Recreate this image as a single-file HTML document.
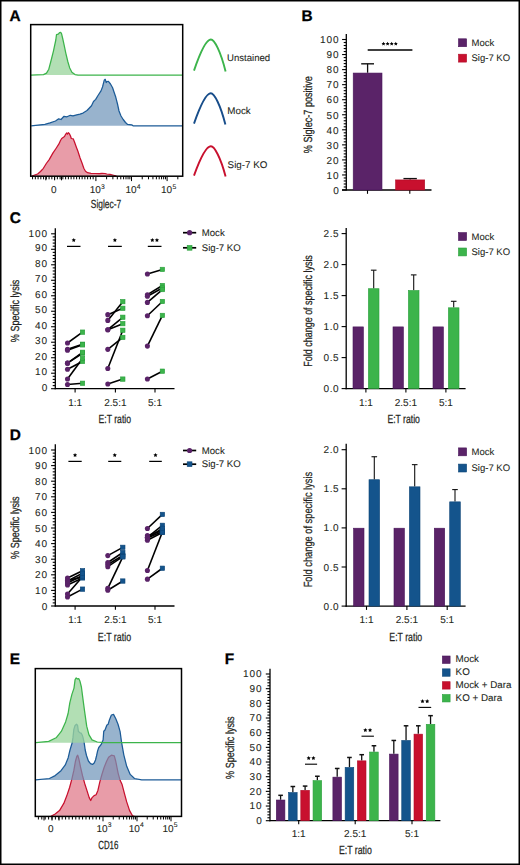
<!DOCTYPE html>
<html><head><meta charset="utf-8"><style>
html,body{margin:0;padding:0;background:#fff;}
svg{display:block;font-family:'Liberation Sans', sans-serif;text-rendering:geometricPrecision;}
</style></head><body>
<svg width="520" height="865" viewBox="0 0 520 865">
<rect x="0" y="0" width="520" height="865" fill="#fff"/>
<text x="9.60" y="21.20" font-size="15.4" font-weight="bold" fill="#000" stroke="#000" stroke-width="0.3">A</text>
<path d="M31.80,176.20 L31.80,176.00 L37.60,174.00 L40.50,171.50 L43.40,168.30 L46.30,163.50 L49.20,159.60 L53.00,152.90 L56.00,148.50 L58.80,144.20 L60.50,140.50 L61.70,138.50 L64.50,136.50 L65.50,134.50 L66.50,133.00 L67.40,134.00 L68.40,132.70 L69.30,133.60 L70.50,136.00 L71.30,138.50 L73.20,138.80 L74.50,142.00 L76.00,146.20 L78.00,151.50 L80.00,157.70 L82.00,163.00 L83.80,168.30 L85.50,171.30 L87.60,172.70 L91.00,173.30 L95.30,173.50 L99.20,173.60 L102.00,173.30 L105.00,173.50 L106.80,174.00 L110.00,174.30 L112.60,175.00 L116.50,176.00 L116.50,176.20 Z" fill="#e89ca8" fill-opacity="1.0" stroke="none"/>
<path d="M31.80,176.00 L37.60,174.00 L40.50,171.50 L43.40,168.30 L46.30,163.50 L49.20,159.60 L53.00,152.90 L56.00,148.50 L58.80,144.20 L60.50,140.50 L61.70,138.50 L64.50,136.50 L65.50,134.50 L66.50,133.00 L67.40,134.00 L68.40,132.70 L69.30,133.60 L70.50,136.00 L71.30,138.50 L73.20,138.80 L74.50,142.00 L76.00,146.20 L78.00,151.50 L80.00,157.70 L82.00,163.00 L83.80,168.30 L85.50,171.30 L87.60,172.70 L91.00,173.30 L95.30,173.50 L99.20,173.60 L102.00,173.30 L105.00,173.50 L106.80,174.00 L110.00,174.30 L112.60,175.00 L116.50,176.00" fill="none" stroke="#c8102e" stroke-width="1.25" stroke-linejoin="round"/>
<path d="M31.20,125.80 L31.20,125.80 L44.90,124.30 L50.00,122.80 L55.50,121.00 L58.70,118.80 L61.00,119.50 L64.00,116.30 L67.00,116.80 L70.30,115.30 L73.00,115.80 L76.70,114.80 L80.00,114.20 L83.00,113.10 L87.00,110.50 L91.50,105.70 L93.50,101.50 L95.70,99.40 L98.00,95.50 L101.00,90.90 L102.50,87.00 L104.20,80.30 L105.20,79.30 L106.20,82.50 L107.00,81.50 L108.40,81.40 L110.50,84.00 L112.60,87.80 L114.00,92.00 L115.80,97.30 L117.50,104.00 L119.00,111.00 L121.00,116.00 L123.20,119.50 L125.50,122.50 L127.40,124.30 L131.70,124.80 L133.00,125.80 L182.50,125.80 L182.50,125.80 Z" fill="#7095ba" fill-opacity="0.72" stroke="none"/>
<path d="M31.20,125.80 L44.90,124.30 L50.00,122.80 L55.50,121.00 L58.70,118.80 L61.00,119.50 L64.00,116.30 L67.00,116.80 L70.30,115.30 L73.00,115.80 L76.70,114.80 L80.00,114.20 L83.00,113.10 L87.00,110.50 L91.50,105.70 L93.50,101.50 L95.70,99.40 L98.00,95.50 L101.00,90.90 L102.50,87.00 L104.20,80.30 L105.20,79.30 L106.20,82.50 L107.00,81.50 L108.40,81.40 L110.50,84.00 L112.60,87.80 L114.00,92.00 L115.80,97.30 L117.50,104.00 L119.00,111.00 L121.00,116.00 L123.20,119.50 L125.50,122.50 L127.40,124.30 L131.70,124.80 L133.00,125.80 L182.50,125.80" fill="none" stroke="#1c5b97" stroke-width="1.25" stroke-linejoin="round"/>
<path d="M31.00,75.10 L31.00,75.10 L43.50,74.60 L46.50,73.10 L48.80,69.20 L51.20,60.00 L53.50,50.80 L55.80,40.00 L56.50,34.60 L58.10,34.20 L58.80,33.50 L59.60,32.60 L60.70,32.30 L61.60,33.80 L62.70,38.50 L64.20,45.40 L65.80,53.10 L67.80,61.50 L69.60,67.70 L71.90,72.30 L75.00,74.60 L78.10,75.10 L182.50,75.10 L182.50,75.10 Z" fill="#9cd69f" fill-opacity="0.78" stroke="none"/>
<path d="M31.00,75.10 L43.50,74.60 L46.50,73.10 L48.80,69.20 L51.20,60.00 L53.50,50.80 L55.80,40.00 L56.50,34.60 L58.10,34.20 L58.80,33.50 L59.60,32.60 L60.70,32.30 L61.60,33.80 L62.70,38.50 L64.20,45.40 L65.80,53.10 L67.80,61.50 L69.60,67.70 L71.90,72.30 L75.00,74.60 L78.10,75.10 L182.50,75.10" fill="none" stroke="#3cb44b" stroke-width="1.25" stroke-linejoin="round"/>
<rect x="30.7" y="24.6" width="152.0" height="151.6" fill="none" stroke="#000" stroke-width="1.5"/>
<line x1="54.60" y1="176.60" x2="54.60" y2="179.30" stroke="#000" stroke-width="1.0"/>
<line x1="51.85" y1="176.60" x2="51.85" y2="179.30" stroke="#000" stroke-width="1.0"/>
<line x1="49.09" y1="176.60" x2="49.09" y2="179.30" stroke="#000" stroke-width="1.0"/>
<line x1="46.34" y1="176.60" x2="46.34" y2="179.30" stroke="#000" stroke-width="1.0"/>
<line x1="43.59" y1="176.60" x2="43.59" y2="179.30" stroke="#000" stroke-width="1.0"/>
<line x1="40.83" y1="176.60" x2="40.83" y2="179.30" stroke="#000" stroke-width="1.0"/>
<line x1="38.08" y1="176.60" x2="38.08" y2="179.30" stroke="#000" stroke-width="1.0"/>
<line x1="35.33" y1="176.60" x2="35.33" y2="179.30" stroke="#000" stroke-width="1.0"/>
<line x1="32.57" y1="176.60" x2="32.57" y2="179.30" stroke="#000" stroke-width="1.0"/>
<line x1="57.35" y1="176.60" x2="57.35" y2="179.30" stroke="#000" stroke-width="1.0"/>
<line x1="60.11" y1="176.60" x2="60.11" y2="179.30" stroke="#000" stroke-width="1.0"/>
<line x1="62.86" y1="176.60" x2="62.86" y2="179.30" stroke="#000" stroke-width="1.0"/>
<line x1="65.61" y1="176.60" x2="65.61" y2="179.30" stroke="#000" stroke-width="1.0"/>
<line x1="68.37" y1="176.60" x2="68.37" y2="179.30" stroke="#000" stroke-width="1.0"/>
<line x1="71.12" y1="176.60" x2="71.12" y2="179.30" stroke="#000" stroke-width="1.0"/>
<line x1="73.87" y1="176.60" x2="73.87" y2="179.30" stroke="#000" stroke-width="1.0"/>
<line x1="76.63" y1="176.60" x2="76.63" y2="179.30" stroke="#000" stroke-width="1.0"/>
<line x1="79.38" y1="176.60" x2="79.38" y2="179.30" stroke="#000" stroke-width="1.0"/>
<line x1="82.13" y1="176.60" x2="82.13" y2="179.30" stroke="#000" stroke-width="1.0"/>
<line x1="84.89" y1="176.60" x2="84.89" y2="179.30" stroke="#000" stroke-width="1.0"/>
<line x1="87.64" y1="176.60" x2="87.64" y2="179.30" stroke="#000" stroke-width="1.0"/>
<line x1="90.39" y1="176.60" x2="90.39" y2="179.30" stroke="#000" stroke-width="1.0"/>
<line x1="93.15" y1="176.60" x2="93.15" y2="179.30" stroke="#000" stroke-width="1.0"/>
<line x1="95.90" y1="176.60" x2="95.90" y2="181.10" stroke="#000" stroke-width="1.0"/>
<line x1="106.62" y1="176.60" x2="106.62" y2="179.30" stroke="#000" stroke-width="1.0"/>
<line x1="112.89" y1="176.60" x2="112.89" y2="179.30" stroke="#000" stroke-width="1.0"/>
<line x1="117.33" y1="176.60" x2="117.33" y2="179.30" stroke="#000" stroke-width="1.0"/>
<line x1="120.78" y1="176.60" x2="120.78" y2="179.30" stroke="#000" stroke-width="1.0"/>
<line x1="123.60" y1="176.60" x2="123.60" y2="179.30" stroke="#000" stroke-width="1.0"/>
<line x1="125.99" y1="176.60" x2="125.99" y2="179.30" stroke="#000" stroke-width="1.0"/>
<line x1="128.05" y1="176.60" x2="128.05" y2="179.30" stroke="#000" stroke-width="1.0"/>
<line x1="129.87" y1="176.60" x2="129.87" y2="179.30" stroke="#000" stroke-width="1.0"/>
<line x1="131.50" y1="176.60" x2="131.50" y2="181.10" stroke="#000" stroke-width="1.0"/>
<line x1="142.22" y1="176.60" x2="142.22" y2="179.30" stroke="#000" stroke-width="1.0"/>
<line x1="148.49" y1="176.60" x2="148.49" y2="179.30" stroke="#000" stroke-width="1.0"/>
<line x1="152.93" y1="176.60" x2="152.93" y2="179.30" stroke="#000" stroke-width="1.0"/>
<line x1="156.38" y1="176.60" x2="156.38" y2="179.30" stroke="#000" stroke-width="1.0"/>
<line x1="159.20" y1="176.60" x2="159.20" y2="179.30" stroke="#000" stroke-width="1.0"/>
<line x1="161.59" y1="176.60" x2="161.59" y2="179.30" stroke="#000" stroke-width="1.0"/>
<line x1="163.65" y1="176.60" x2="163.65" y2="179.30" stroke="#000" stroke-width="1.0"/>
<line x1="165.47" y1="176.60" x2="165.47" y2="179.30" stroke="#000" stroke-width="1.0"/>
<line x1="167.10" y1="176.60" x2="167.10" y2="181.10" stroke="#000" stroke-width="1.0"/>
<line x1="177.82" y1="176.60" x2="177.82" y2="179.30" stroke="#000" stroke-width="1.0"/>
<line x1="45.80" y1="176.60" x2="45.80" y2="180.30" stroke="#000" stroke-width="1.0"/>
<line x1="54.60" y1="176.60" x2="54.60" y2="180.30" stroke="#000" stroke-width="1.0"/>
<line x1="61.50" y1="176.60" x2="61.50" y2="180.30" stroke="#000" stroke-width="1.0"/>
<text x="53.70" y="192.80" font-size="10" text-anchor="middle" font-weight="normal" fill="#231f20" stroke="#231f20" stroke-width="0.08">0</text>
<text x="95.30" y="192.80" font-size="10" text-anchor="middle" font-weight="normal" fill="#231f20" stroke="#231f20" stroke-width="0.08">10</text>
<text x="101.10" y="188.50" font-size="6.8" text-anchor="start" font-weight="normal" fill="#231f20" stroke="#231f20" stroke-width="0.08">3</text>
<text x="131.00" y="192.80" font-size="10" text-anchor="middle" font-weight="normal" fill="#231f20" stroke="#231f20" stroke-width="0.08">10</text>
<text x="136.80" y="188.50" font-size="6.8" text-anchor="start" font-weight="normal" fill="#231f20" stroke="#231f20" stroke-width="0.08">4</text>
<text x="166.60" y="192.80" font-size="10" text-anchor="middle" font-weight="normal" fill="#231f20" stroke="#231f20" stroke-width="0.08">10</text>
<text x="172.40" y="188.50" font-size="6.8" text-anchor="start" font-weight="normal" fill="#231f20" stroke="#231f20" stroke-width="0.08">5</text>
<text x="106.00" y="207.90" font-size="11.8" text-anchor="middle" fill="#231f20" stroke="#231f20" stroke-width="0.25" textLength="30.40" lengthAdjust="spacingAndGlyphs">Siglec-7</text>
<path d="M194.0,70.6 C197.5,60.3 205.4,39.5 210.9,39.5 C214.4,39.5 220.6,51.3 225.6,71.6" fill="none" stroke="#3cb44b" stroke-width="1.9"/>
<path d="M194.0,123.6 C197.5,113.6 205.3,93.3 210.8,93.3 C214.3,93.3 220.4,104.8 225.4,124.6" fill="none" stroke="#174d8a" stroke-width="1.9"/>
<path d="M194.0,175.6 C197.5,165.9 205.4,146.3 210.9,146.3 C214.4,146.3 220.6,157.4 225.6,176.6" fill="none" stroke="#c8102e" stroke-width="1.9"/>
<text x="227.00" y="61.00" font-size="9.6" text-anchor="start" font-weight="normal" fill="#231f20" stroke="#231f20" stroke-width="0.08">Unstained</text>
<text x="227.30" y="113.80" font-size="9.8" text-anchor="start" font-weight="normal" fill="#231f20" stroke="#231f20" stroke-width="0.08">Mock</text>
<text x="227.60" y="168.00" font-size="9.8" text-anchor="start" font-weight="normal" fill="#231f20" stroke="#231f20" stroke-width="0.08">Sig-7 KO</text>
<text x="301.60" y="21.00" font-size="15.4" font-weight="bold" fill="#000" stroke="#000" stroke-width="0.3">B</text>
<line x1="346.30" y1="34.00" x2="346.30" y2="190.60" stroke="#000" stroke-width="1.3"/>
<line x1="342.10" y1="190.00" x2="346.30" y2="190.00" stroke="#000" stroke-width="1.1"/>
<line x1="343.70" y1="186.99" x2="346.30" y2="186.99" stroke="#000" stroke-width="1.1"/>
<line x1="343.70" y1="183.98" x2="346.30" y2="183.98" stroke="#000" stroke-width="1.1"/>
<line x1="343.70" y1="180.97" x2="346.30" y2="180.97" stroke="#000" stroke-width="1.1"/>
<line x1="343.70" y1="177.96" x2="346.30" y2="177.96" stroke="#000" stroke-width="1.1"/>
<line x1="342.10" y1="174.95" x2="346.30" y2="174.95" stroke="#000" stroke-width="1.1"/>
<line x1="343.70" y1="171.94" x2="346.30" y2="171.94" stroke="#000" stroke-width="1.1"/>
<line x1="343.70" y1="168.93" x2="346.30" y2="168.93" stroke="#000" stroke-width="1.1"/>
<line x1="343.70" y1="165.92" x2="346.30" y2="165.92" stroke="#000" stroke-width="1.1"/>
<line x1="343.70" y1="162.91" x2="346.30" y2="162.91" stroke="#000" stroke-width="1.1"/>
<line x1="342.10" y1="159.90" x2="346.30" y2="159.90" stroke="#000" stroke-width="1.1"/>
<line x1="343.70" y1="156.89" x2="346.30" y2="156.89" stroke="#000" stroke-width="1.1"/>
<line x1="343.70" y1="153.88" x2="346.30" y2="153.88" stroke="#000" stroke-width="1.1"/>
<line x1="343.70" y1="150.87" x2="346.30" y2="150.87" stroke="#000" stroke-width="1.1"/>
<line x1="343.70" y1="147.86" x2="346.30" y2="147.86" stroke="#000" stroke-width="1.1"/>
<line x1="342.10" y1="144.85" x2="346.30" y2="144.85" stroke="#000" stroke-width="1.1"/>
<line x1="343.70" y1="141.84" x2="346.30" y2="141.84" stroke="#000" stroke-width="1.1"/>
<line x1="343.70" y1="138.83" x2="346.30" y2="138.83" stroke="#000" stroke-width="1.1"/>
<line x1="343.70" y1="135.82" x2="346.30" y2="135.82" stroke="#000" stroke-width="1.1"/>
<line x1="343.70" y1="132.81" x2="346.30" y2="132.81" stroke="#000" stroke-width="1.1"/>
<line x1="342.10" y1="129.80" x2="346.30" y2="129.80" stroke="#000" stroke-width="1.1"/>
<line x1="343.70" y1="126.79" x2="346.30" y2="126.79" stroke="#000" stroke-width="1.1"/>
<line x1="343.70" y1="123.78" x2="346.30" y2="123.78" stroke="#000" stroke-width="1.1"/>
<line x1="343.70" y1="120.77" x2="346.30" y2="120.77" stroke="#000" stroke-width="1.1"/>
<line x1="343.70" y1="117.76" x2="346.30" y2="117.76" stroke="#000" stroke-width="1.1"/>
<line x1="342.10" y1="114.75" x2="346.30" y2="114.75" stroke="#000" stroke-width="1.1"/>
<line x1="343.70" y1="111.74" x2="346.30" y2="111.74" stroke="#000" stroke-width="1.1"/>
<line x1="343.70" y1="108.73" x2="346.30" y2="108.73" stroke="#000" stroke-width="1.1"/>
<line x1="343.70" y1="105.72" x2="346.30" y2="105.72" stroke="#000" stroke-width="1.1"/>
<line x1="343.70" y1="102.71" x2="346.30" y2="102.71" stroke="#000" stroke-width="1.1"/>
<line x1="342.10" y1="99.70" x2="346.30" y2="99.70" stroke="#000" stroke-width="1.1"/>
<line x1="343.70" y1="96.69" x2="346.30" y2="96.69" stroke="#000" stroke-width="1.1"/>
<line x1="343.70" y1="93.68" x2="346.30" y2="93.68" stroke="#000" stroke-width="1.1"/>
<line x1="343.70" y1="90.67" x2="346.30" y2="90.67" stroke="#000" stroke-width="1.1"/>
<line x1="343.70" y1="87.66" x2="346.30" y2="87.66" stroke="#000" stroke-width="1.1"/>
<line x1="342.10" y1="84.65" x2="346.30" y2="84.65" stroke="#000" stroke-width="1.1"/>
<line x1="343.70" y1="81.64" x2="346.30" y2="81.64" stroke="#000" stroke-width="1.1"/>
<line x1="343.70" y1="78.63" x2="346.30" y2="78.63" stroke="#000" stroke-width="1.1"/>
<line x1="343.70" y1="75.62" x2="346.30" y2="75.62" stroke="#000" stroke-width="1.1"/>
<line x1="343.70" y1="72.61" x2="346.30" y2="72.61" stroke="#000" stroke-width="1.1"/>
<line x1="342.10" y1="69.60" x2="346.30" y2="69.60" stroke="#000" stroke-width="1.1"/>
<line x1="343.70" y1="66.59" x2="346.30" y2="66.59" stroke="#000" stroke-width="1.1"/>
<line x1="343.70" y1="63.58" x2="346.30" y2="63.58" stroke="#000" stroke-width="1.1"/>
<line x1="343.70" y1="60.57" x2="346.30" y2="60.57" stroke="#000" stroke-width="1.1"/>
<line x1="343.70" y1="57.56" x2="346.30" y2="57.56" stroke="#000" stroke-width="1.1"/>
<line x1="342.10" y1="54.55" x2="346.30" y2="54.55" stroke="#000" stroke-width="1.1"/>
<line x1="343.70" y1="51.54" x2="346.30" y2="51.54" stroke="#000" stroke-width="1.1"/>
<line x1="343.70" y1="48.53" x2="346.30" y2="48.53" stroke="#000" stroke-width="1.1"/>
<line x1="343.70" y1="45.52" x2="346.30" y2="45.52" stroke="#000" stroke-width="1.1"/>
<line x1="343.70" y1="42.51" x2="346.30" y2="42.51" stroke="#000" stroke-width="1.1"/>
<line x1="342.10" y1="39.50" x2="346.30" y2="39.50" stroke="#000" stroke-width="1.1"/>
<text x="339.70" y="193.78" font-size="10.0" text-anchor="end" font-weight="normal" fill="#231f20" stroke="#231f20" stroke-width="0.08" letter-spacing="1.0">0</text>
<text x="339.70" y="178.73" font-size="10.0" text-anchor="end" font-weight="normal" fill="#231f20" stroke="#231f20" stroke-width="0.08" letter-spacing="1.0">10</text>
<text x="339.70" y="163.68" font-size="10.0" text-anchor="end" font-weight="normal" fill="#231f20" stroke="#231f20" stroke-width="0.08" letter-spacing="1.0">20</text>
<text x="339.70" y="148.63" font-size="10.0" text-anchor="end" font-weight="normal" fill="#231f20" stroke="#231f20" stroke-width="0.08" letter-spacing="1.0">30</text>
<text x="339.70" y="133.58" font-size="10.0" text-anchor="end" font-weight="normal" fill="#231f20" stroke="#231f20" stroke-width="0.08" letter-spacing="1.0">40</text>
<text x="339.70" y="118.53" font-size="10.0" text-anchor="end" font-weight="normal" fill="#231f20" stroke="#231f20" stroke-width="0.08" letter-spacing="1.0">50</text>
<text x="339.70" y="103.48" font-size="10.0" text-anchor="end" font-weight="normal" fill="#231f20" stroke="#231f20" stroke-width="0.08" letter-spacing="1.0">60</text>
<text x="339.70" y="88.43" font-size="10.0" text-anchor="end" font-weight="normal" fill="#231f20" stroke="#231f20" stroke-width="0.08" letter-spacing="1.0">70</text>
<text x="339.70" y="73.38" font-size="10.0" text-anchor="end" font-weight="normal" fill="#231f20" stroke="#231f20" stroke-width="0.08" letter-spacing="1.0">80</text>
<text x="339.70" y="58.33" font-size="10.0" text-anchor="end" font-weight="normal" fill="#231f20" stroke="#231f20" stroke-width="0.08" letter-spacing="1.0">90</text>
<text x="339.70" y="43.28" font-size="10.0" text-anchor="end" font-weight="normal" fill="#231f20" stroke="#231f20" stroke-width="0.08" letter-spacing="1.0">100</text>
<line x1="342.00" y1="190.00" x2="431.50" y2="190.00" stroke="#000" stroke-width="1.3"/>
<line x1="367.50" y1="190.00" x2="367.50" y2="193.80" stroke="#000" stroke-width="1.1"/>
<line x1="409.80" y1="190.00" x2="409.80" y2="193.80" stroke="#000" stroke-width="1.1"/>
<line x1="367.60" y1="72.76" x2="367.60" y2="63.81" stroke="#111" stroke-width="1.3"/>
<line x1="361.20" y1="63.81" x2="374.00" y2="63.81" stroke="#111" stroke-width="1.4"/>
<rect x="353.20" y="73.06" width="28.80" height="116.94" fill="#5a2368" stroke="#48145a" stroke-width="0.6"/>
<line x1="410.15" y1="179.62" x2="410.15" y2="178.61" stroke="#111" stroke-width="1.3"/>
<line x1="403.45" y1="178.61" x2="416.85" y2="178.61" stroke="#111" stroke-width="1.4"/>
<rect x="395.60" y="179.92" width="29.10" height="10.08" fill="#c8102e" stroke="#b00c28" stroke-width="0.6"/>
<line x1="367.70" y1="50.00" x2="412.40" y2="50.00" stroke="#000" stroke-width="1.3"/>
<polygon points="383.50,41.70 384.12,42.95 385.50,43.15 384.50,44.12 384.73,45.50 383.50,44.85 382.27,45.50 382.50,44.12 381.50,43.15 382.88,42.95" fill="#000"/>
<polygon points="387.60,41.70 388.22,42.95 389.60,43.15 388.60,44.12 388.83,45.50 387.60,44.85 386.37,45.50 386.60,44.12 385.60,43.15 386.98,42.95" fill="#000"/>
<polygon points="391.70,41.70 392.32,42.95 393.70,43.15 392.70,44.12 392.93,45.50 391.70,44.85 390.47,45.50 390.70,44.12 389.70,43.15 391.08,42.95" fill="#000"/>
<polygon points="395.80,41.70 396.42,42.95 397.80,43.15 396.80,44.12 397.03,45.50 395.80,44.85 394.57,45.50 394.80,44.12 393.80,43.15 395.18,42.95" fill="#000"/>
<text transform="translate(312.30,114.70) rotate(-90)" x="0" y="0" font-size="11.8" text-anchor="middle" fill="#231f20" stroke="#231f20" stroke-width="0.25" textLength="77.00" lengthAdjust="spacingAndGlyphs">% Siglec-7 positive</text>
<rect x="458.50" y="38.80" width="8.10" height="7.90" fill="#5a2368" stroke="#48145a" stroke-width="0.6"/>
<rect x="458.50" y="54.20" width="8.10" height="7.90" fill="#c8102e" stroke="#b00c28" stroke-width="0.6"/>
<text x="471.50" y="45.60" font-size="9.5" text-anchor="start" font-weight="normal" fill="#231f20" stroke="#231f20" stroke-width="0.08">Mock</text>
<text x="471.50" y="61.20" font-size="9.5" text-anchor="start" font-weight="normal" fill="#231f20" stroke="#231f20" stroke-width="0.08">Sig-7 KO</text>
<text x="9.70" y="223.30" font-size="15.4" font-weight="bold" fill="#000" stroke="#000" stroke-width="0.3">C</text>
<line x1="55.30" y1="228.20" x2="55.30" y2="389.30" stroke="#000" stroke-width="1.3"/>
<line x1="51.10" y1="388.70" x2="55.30" y2="388.70" stroke="#000" stroke-width="1.1"/>
<line x1="52.70" y1="385.60" x2="55.30" y2="385.60" stroke="#000" stroke-width="1.1"/>
<line x1="52.70" y1="382.50" x2="55.30" y2="382.50" stroke="#000" stroke-width="1.1"/>
<line x1="52.70" y1="379.41" x2="55.30" y2="379.41" stroke="#000" stroke-width="1.1"/>
<line x1="52.70" y1="376.31" x2="55.30" y2="376.31" stroke="#000" stroke-width="1.1"/>
<line x1="51.10" y1="373.21" x2="55.30" y2="373.21" stroke="#000" stroke-width="1.1"/>
<line x1="52.70" y1="370.11" x2="55.30" y2="370.11" stroke="#000" stroke-width="1.1"/>
<line x1="52.70" y1="367.01" x2="55.30" y2="367.01" stroke="#000" stroke-width="1.1"/>
<line x1="52.70" y1="363.92" x2="55.30" y2="363.92" stroke="#000" stroke-width="1.1"/>
<line x1="52.70" y1="360.82" x2="55.30" y2="360.82" stroke="#000" stroke-width="1.1"/>
<line x1="51.10" y1="357.72" x2="55.30" y2="357.72" stroke="#000" stroke-width="1.1"/>
<line x1="52.70" y1="354.62" x2="55.30" y2="354.62" stroke="#000" stroke-width="1.1"/>
<line x1="52.70" y1="351.52" x2="55.30" y2="351.52" stroke="#000" stroke-width="1.1"/>
<line x1="52.70" y1="348.43" x2="55.30" y2="348.43" stroke="#000" stroke-width="1.1"/>
<line x1="52.70" y1="345.33" x2="55.30" y2="345.33" stroke="#000" stroke-width="1.1"/>
<line x1="51.10" y1="342.23" x2="55.30" y2="342.23" stroke="#000" stroke-width="1.1"/>
<line x1="52.70" y1="339.13" x2="55.30" y2="339.13" stroke="#000" stroke-width="1.1"/>
<line x1="52.70" y1="336.03" x2="55.30" y2="336.03" stroke="#000" stroke-width="1.1"/>
<line x1="52.70" y1="332.94" x2="55.30" y2="332.94" stroke="#000" stroke-width="1.1"/>
<line x1="52.70" y1="329.84" x2="55.30" y2="329.84" stroke="#000" stroke-width="1.1"/>
<line x1="51.10" y1="326.74" x2="55.30" y2="326.74" stroke="#000" stroke-width="1.1"/>
<line x1="52.70" y1="323.64" x2="55.30" y2="323.64" stroke="#000" stroke-width="1.1"/>
<line x1="52.70" y1="320.54" x2="55.30" y2="320.54" stroke="#000" stroke-width="1.1"/>
<line x1="52.70" y1="317.45" x2="55.30" y2="317.45" stroke="#000" stroke-width="1.1"/>
<line x1="52.70" y1="314.35" x2="55.30" y2="314.35" stroke="#000" stroke-width="1.1"/>
<line x1="51.10" y1="311.25" x2="55.30" y2="311.25" stroke="#000" stroke-width="1.1"/>
<line x1="52.70" y1="308.15" x2="55.30" y2="308.15" stroke="#000" stroke-width="1.1"/>
<line x1="52.70" y1="305.05" x2="55.30" y2="305.05" stroke="#000" stroke-width="1.1"/>
<line x1="52.70" y1="301.96" x2="55.30" y2="301.96" stroke="#000" stroke-width="1.1"/>
<line x1="52.70" y1="298.86" x2="55.30" y2="298.86" stroke="#000" stroke-width="1.1"/>
<line x1="51.10" y1="295.76" x2="55.30" y2="295.76" stroke="#000" stroke-width="1.1"/>
<line x1="52.70" y1="292.66" x2="55.30" y2="292.66" stroke="#000" stroke-width="1.1"/>
<line x1="52.70" y1="289.56" x2="55.30" y2="289.56" stroke="#000" stroke-width="1.1"/>
<line x1="52.70" y1="286.47" x2="55.30" y2="286.47" stroke="#000" stroke-width="1.1"/>
<line x1="52.70" y1="283.37" x2="55.30" y2="283.37" stroke="#000" stroke-width="1.1"/>
<line x1="51.10" y1="280.27" x2="55.30" y2="280.27" stroke="#000" stroke-width="1.1"/>
<line x1="52.70" y1="277.17" x2="55.30" y2="277.17" stroke="#000" stroke-width="1.1"/>
<line x1="52.70" y1="274.07" x2="55.30" y2="274.07" stroke="#000" stroke-width="1.1"/>
<line x1="52.70" y1="270.98" x2="55.30" y2="270.98" stroke="#000" stroke-width="1.1"/>
<line x1="52.70" y1="267.88" x2="55.30" y2="267.88" stroke="#000" stroke-width="1.1"/>
<line x1="51.10" y1="264.78" x2="55.30" y2="264.78" stroke="#000" stroke-width="1.1"/>
<line x1="52.70" y1="261.68" x2="55.30" y2="261.68" stroke="#000" stroke-width="1.1"/>
<line x1="52.70" y1="258.58" x2="55.30" y2="258.58" stroke="#000" stroke-width="1.1"/>
<line x1="52.70" y1="255.49" x2="55.30" y2="255.49" stroke="#000" stroke-width="1.1"/>
<line x1="52.70" y1="252.39" x2="55.30" y2="252.39" stroke="#000" stroke-width="1.1"/>
<line x1="51.10" y1="249.29" x2="55.30" y2="249.29" stroke="#000" stroke-width="1.1"/>
<line x1="52.70" y1="246.19" x2="55.30" y2="246.19" stroke="#000" stroke-width="1.1"/>
<line x1="52.70" y1="243.09" x2="55.30" y2="243.09" stroke="#000" stroke-width="1.1"/>
<line x1="52.70" y1="240.00" x2="55.30" y2="240.00" stroke="#000" stroke-width="1.1"/>
<line x1="52.70" y1="236.90" x2="55.30" y2="236.90" stroke="#000" stroke-width="1.1"/>
<line x1="51.10" y1="233.80" x2="55.30" y2="233.80" stroke="#000" stroke-width="1.1"/>
<text x="48.20" y="390.68" font-size="10.0" text-anchor="end" font-weight="normal" fill="#231f20" stroke="#231f20" stroke-width="0.08" letter-spacing="1.0">0</text>
<text x="48.20" y="375.19" font-size="10.0" text-anchor="end" font-weight="normal" fill="#231f20" stroke="#231f20" stroke-width="0.08" letter-spacing="1.0">10</text>
<text x="48.20" y="359.70" font-size="10.0" text-anchor="end" font-weight="normal" fill="#231f20" stroke="#231f20" stroke-width="0.08" letter-spacing="1.0">20</text>
<text x="48.20" y="344.21" font-size="10.0" text-anchor="end" font-weight="normal" fill="#231f20" stroke="#231f20" stroke-width="0.08" letter-spacing="1.0">30</text>
<text x="48.20" y="328.72" font-size="10.0" text-anchor="end" font-weight="normal" fill="#231f20" stroke="#231f20" stroke-width="0.08" letter-spacing="1.0">40</text>
<text x="48.20" y="313.23" font-size="10.0" text-anchor="end" font-weight="normal" fill="#231f20" stroke="#231f20" stroke-width="0.08" letter-spacing="1.0">50</text>
<text x="48.20" y="297.74" font-size="10.0" text-anchor="end" font-weight="normal" fill="#231f20" stroke="#231f20" stroke-width="0.08" letter-spacing="1.0">60</text>
<text x="48.20" y="282.25" font-size="10.0" text-anchor="end" font-weight="normal" fill="#231f20" stroke="#231f20" stroke-width="0.08" letter-spacing="1.0">70</text>
<text x="48.20" y="266.76" font-size="10.0" text-anchor="end" font-weight="normal" fill="#231f20" stroke="#231f20" stroke-width="0.08" letter-spacing="1.0">80</text>
<text x="48.20" y="251.27" font-size="10.0" text-anchor="end" font-weight="normal" fill="#231f20" stroke="#231f20" stroke-width="0.08" letter-spacing="1.0">90</text>
<text x="48.20" y="236.98" font-size="10.0" text-anchor="end" font-weight="normal" fill="#231f20" stroke="#231f20" stroke-width="0.08" letter-spacing="1.0">100</text>
<line x1="54.70" y1="388.70" x2="174.50" y2="388.70" stroke="#000" stroke-width="1.3"/>
<line x1="75.10" y1="388.70" x2="75.10" y2="392.50" stroke="#000" stroke-width="1.1"/>
<line x1="115.40" y1="388.70" x2="115.40" y2="392.50" stroke="#000" stroke-width="1.1"/>
<line x1="155.00" y1="388.70" x2="155.00" y2="392.50" stroke="#000" stroke-width="1.1"/>
<line x1="67.50" y1="343.00" x2="82.50" y2="332.16" stroke="#000" stroke-width="1.6"/>
<line x1="67.50" y1="349.20" x2="82.50" y2="344.24" stroke="#000" stroke-width="1.6"/>
<line x1="67.50" y1="350.13" x2="82.50" y2="344.86" stroke="#000" stroke-width="1.6"/>
<line x1="67.50" y1="363.14" x2="82.50" y2="353.23" stroke="#000" stroke-width="1.6"/>
<line x1="67.50" y1="369.18" x2="82.50" y2="361.44" stroke="#000" stroke-width="1.6"/>
<line x1="67.50" y1="378.94" x2="82.50" y2="358.49" stroke="#000" stroke-width="1.6"/>
<line x1="67.50" y1="384.52" x2="82.50" y2="383.28" stroke="#000" stroke-width="1.6"/>
<line x1="67.50" y1="363.14" x2="82.50" y2="352.30" stroke="#000" stroke-width="1.6"/>
<circle cx="67.50" cy="343.00" r="2.55" fill="#5a2368"/>
<circle cx="67.50" cy="349.20" r="2.55" fill="#5a2368"/>
<circle cx="67.50" cy="350.13" r="2.55" fill="#5a2368"/>
<circle cx="67.50" cy="363.14" r="2.55" fill="#5a2368"/>
<circle cx="67.50" cy="369.18" r="2.55" fill="#5a2368"/>
<circle cx="67.50" cy="378.94" r="2.55" fill="#5a2368"/>
<circle cx="67.50" cy="384.52" r="2.55" fill="#5a2368"/>
<circle cx="67.50" cy="363.14" r="2.55" fill="#5a2368"/>
<rect x="80.30" y="329.96" width="4.40" height="4.40" fill="#3cb44b" stroke="#2a9f3c" stroke-width="0.6"/>
<rect x="80.30" y="342.04" width="4.40" height="4.40" fill="#3cb44b" stroke="#2a9f3c" stroke-width="0.6"/>
<rect x="80.30" y="342.66" width="4.40" height="4.40" fill="#3cb44b" stroke="#2a9f3c" stroke-width="0.6"/>
<rect x="80.30" y="351.03" width="4.40" height="4.40" fill="#3cb44b" stroke="#2a9f3c" stroke-width="0.6"/>
<rect x="80.30" y="359.24" width="4.40" height="4.40" fill="#3cb44b" stroke="#2a9f3c" stroke-width="0.6"/>
<rect x="80.30" y="356.29" width="4.40" height="4.40" fill="#3cb44b" stroke="#2a9f3c" stroke-width="0.6"/>
<rect x="80.30" y="381.08" width="4.40" height="4.40" fill="#3cb44b" stroke="#2a9f3c" stroke-width="0.6"/>
<rect x="80.30" y="350.10" width="4.40" height="4.40" fill="#3cb44b" stroke="#2a9f3c" stroke-width="0.6"/>
<line x1="107.80" y1="314.66" x2="122.80" y2="308.31" stroke="#000" stroke-width="1.6"/>
<line x1="107.80" y1="320.39" x2="122.80" y2="301.65" stroke="#000" stroke-width="1.6"/>
<line x1="107.80" y1="329.68" x2="122.80" y2="317.29" stroke="#000" stroke-width="1.6"/>
<line x1="107.80" y1="329.68" x2="122.80" y2="323.64" stroke="#000" stroke-width="1.6"/>
<line x1="107.80" y1="349.36" x2="122.80" y2="337.43" stroke="#000" stroke-width="1.6"/>
<line x1="107.80" y1="368.56" x2="122.80" y2="330.30" stroke="#000" stroke-width="1.6"/>
<line x1="107.80" y1="384.05" x2="122.80" y2="379.10" stroke="#000" stroke-width="1.6"/>
<circle cx="107.80" cy="314.66" r="2.55" fill="#5a2368"/>
<circle cx="107.80" cy="320.39" r="2.55" fill="#5a2368"/>
<circle cx="107.80" cy="329.68" r="2.55" fill="#5a2368"/>
<circle cx="107.80" cy="329.68" r="2.55" fill="#5a2368"/>
<circle cx="107.80" cy="349.36" r="2.55" fill="#5a2368"/>
<circle cx="107.80" cy="368.56" r="2.55" fill="#5a2368"/>
<circle cx="107.80" cy="384.05" r="2.55" fill="#5a2368"/>
<rect x="120.60" y="306.11" width="4.40" height="4.40" fill="#3cb44b" stroke="#2a9f3c" stroke-width="0.6"/>
<rect x="120.60" y="299.45" width="4.40" height="4.40" fill="#3cb44b" stroke="#2a9f3c" stroke-width="0.6"/>
<rect x="120.60" y="315.09" width="4.40" height="4.40" fill="#3cb44b" stroke="#2a9f3c" stroke-width="0.6"/>
<rect x="120.60" y="321.44" width="4.40" height="4.40" fill="#3cb44b" stroke="#2a9f3c" stroke-width="0.6"/>
<rect x="120.60" y="335.23" width="4.40" height="4.40" fill="#3cb44b" stroke="#2a9f3c" stroke-width="0.6"/>
<rect x="120.60" y="328.10" width="4.40" height="4.40" fill="#3cb44b" stroke="#2a9f3c" stroke-width="0.6"/>
<rect x="120.60" y="376.90" width="4.40" height="4.40" fill="#3cb44b" stroke="#2a9f3c" stroke-width="0.6"/>
<line x1="147.40" y1="274.07" x2="162.40" y2="269.43" stroke="#000" stroke-width="1.6"/>
<line x1="147.40" y1="294.68" x2="162.40" y2="285.54" stroke="#000" stroke-width="1.6"/>
<line x1="147.40" y1="296.22" x2="162.40" y2="288.01" stroke="#000" stroke-width="1.6"/>
<line x1="147.40" y1="302.42" x2="162.40" y2="289.56" stroke="#000" stroke-width="1.6"/>
<line x1="147.40" y1="315.74" x2="162.40" y2="301.49" stroke="#000" stroke-width="1.6"/>
<line x1="147.40" y1="346.10" x2="162.40" y2="315.43" stroke="#000" stroke-width="1.6"/>
<line x1="147.40" y1="378.94" x2="162.40" y2="371.20" stroke="#000" stroke-width="1.6"/>
<circle cx="147.40" cy="274.07" r="2.55" fill="#5a2368"/>
<circle cx="147.40" cy="294.68" r="2.55" fill="#5a2368"/>
<circle cx="147.40" cy="296.22" r="2.55" fill="#5a2368"/>
<circle cx="147.40" cy="302.42" r="2.55" fill="#5a2368"/>
<circle cx="147.40" cy="315.74" r="2.55" fill="#5a2368"/>
<circle cx="147.40" cy="346.10" r="2.55" fill="#5a2368"/>
<circle cx="147.40" cy="378.94" r="2.55" fill="#5a2368"/>
<rect x="160.20" y="267.23" width="4.40" height="4.40" fill="#3cb44b" stroke="#2a9f3c" stroke-width="0.6"/>
<rect x="160.20" y="283.34" width="4.40" height="4.40" fill="#3cb44b" stroke="#2a9f3c" stroke-width="0.6"/>
<rect x="160.20" y="285.81" width="4.40" height="4.40" fill="#3cb44b" stroke="#2a9f3c" stroke-width="0.6"/>
<rect x="160.20" y="287.36" width="4.40" height="4.40" fill="#3cb44b" stroke="#2a9f3c" stroke-width="0.6"/>
<rect x="160.20" y="299.29" width="4.40" height="4.40" fill="#3cb44b" stroke="#2a9f3c" stroke-width="0.6"/>
<rect x="160.20" y="313.23" width="4.40" height="4.40" fill="#3cb44b" stroke="#2a9f3c" stroke-width="0.6"/>
<rect x="160.20" y="369.00" width="4.40" height="4.40" fill="#3cb44b" stroke="#2a9f3c" stroke-width="0.6"/>
<line x1="67.00" y1="246.40" x2="80.50" y2="246.40" stroke="#000" stroke-width="1.25"/>
<polygon points="73.75,238.00 74.40,239.31 75.84,239.52 74.80,240.54 75.04,241.98 73.75,241.30 72.46,241.98 72.70,240.54 71.66,239.52 73.10,239.31" fill="#000"/>
<line x1="108.00" y1="246.40" x2="121.80" y2="246.40" stroke="#000" stroke-width="1.25"/>
<polygon points="114.90,238.00 115.55,239.31 116.99,239.52 115.95,240.54 116.19,241.98 114.90,241.30 113.61,241.98 113.85,240.54 112.81,239.52 114.25,239.31" fill="#000"/>
<line x1="147.80" y1="246.40" x2="161.50" y2="246.40" stroke="#000" stroke-width="1.25"/>
<polygon points="152.35,238.00 153.00,239.31 154.44,239.52 153.40,240.54 153.64,241.98 152.35,241.30 151.06,241.98 151.30,240.54 150.26,239.52 151.70,239.31" fill="#000"/>
<polygon points="156.95,238.00 157.60,239.31 159.04,239.52 158.00,240.54 158.24,241.98 156.95,241.30 155.66,241.98 155.90,240.54 154.86,239.52 156.30,239.31" fill="#000"/>
<line x1="183.00" y1="232.70" x2="196.20" y2="232.70" stroke="#000" stroke-width="1.7"/>
<circle cx="189.6" cy="232.70" r="2.6" fill="#5a2368"/>
<line x1="183.00" y1="247.80" x2="196.20" y2="247.80" stroke="#000" stroke-width="1.7"/>
<rect x="187.20" y="245.40" width="4.80" height="4.80" fill="#3cb44b" stroke="#2a9f3c" stroke-width="0.6"/>
<text x="201.80" y="236.30" font-size="9.6" text-anchor="start" font-weight="normal" fill="#231f20" stroke="#231f20" stroke-width="0.08">Mock</text>
<text x="201.80" y="250.90" font-size="9.6" text-anchor="start" font-weight="normal" fill="#231f20" stroke="#231f20" stroke-width="0.08">Sig-7 KO</text>
<text x="75.10" y="406.00" font-size="10" text-anchor="middle" font-weight="normal" fill="#231f20" stroke="#231f20" stroke-width="0.08">1:1</text>
<text x="115.40" y="406.00" font-size="10" text-anchor="middle" font-weight="normal" fill="#231f20" stroke="#231f20" stroke-width="0.08">2.5:1</text>
<text x="155.00" y="406.00" font-size="10" text-anchor="middle" font-weight="normal" fill="#231f20" stroke="#231f20" stroke-width="0.08">5:1</text>
<text x="114.80" y="422.60" font-size="11.8" text-anchor="middle" fill="#231f20" stroke="#231f20" stroke-width="0.25" textLength="32.60" lengthAdjust="spacingAndGlyphs">E:T ratio</text>
<text transform="translate(19.20,311.00) rotate(-90)" x="0" y="0" font-size="11.8" text-anchor="middle" fill="#231f20" stroke="#231f20" stroke-width="0.25" textLength="62.40" lengthAdjust="spacingAndGlyphs">% Specific lysis</text>
<text x="9.70" y="439.60" font-size="15.4" font-weight="bold" fill="#000" stroke="#000" stroke-width="0.3">D</text>
<line x1="55.30" y1="444.20" x2="55.30" y2="606.60" stroke="#000" stroke-width="1.3"/>
<line x1="51.10" y1="606.00" x2="55.30" y2="606.00" stroke="#000" stroke-width="1.1"/>
<line x1="52.70" y1="602.88" x2="55.30" y2="602.88" stroke="#000" stroke-width="1.1"/>
<line x1="52.70" y1="599.76" x2="55.30" y2="599.76" stroke="#000" stroke-width="1.1"/>
<line x1="52.70" y1="596.64" x2="55.30" y2="596.64" stroke="#000" stroke-width="1.1"/>
<line x1="52.70" y1="593.52" x2="55.30" y2="593.52" stroke="#000" stroke-width="1.1"/>
<line x1="51.10" y1="590.40" x2="55.30" y2="590.40" stroke="#000" stroke-width="1.1"/>
<line x1="52.70" y1="587.28" x2="55.30" y2="587.28" stroke="#000" stroke-width="1.1"/>
<line x1="52.70" y1="584.16" x2="55.30" y2="584.16" stroke="#000" stroke-width="1.1"/>
<line x1="52.70" y1="581.04" x2="55.30" y2="581.04" stroke="#000" stroke-width="1.1"/>
<line x1="52.70" y1="577.92" x2="55.30" y2="577.92" stroke="#000" stroke-width="1.1"/>
<line x1="51.10" y1="574.80" x2="55.30" y2="574.80" stroke="#000" stroke-width="1.1"/>
<line x1="52.70" y1="571.68" x2="55.30" y2="571.68" stroke="#000" stroke-width="1.1"/>
<line x1="52.70" y1="568.56" x2="55.30" y2="568.56" stroke="#000" stroke-width="1.1"/>
<line x1="52.70" y1="565.44" x2="55.30" y2="565.44" stroke="#000" stroke-width="1.1"/>
<line x1="52.70" y1="562.32" x2="55.30" y2="562.32" stroke="#000" stroke-width="1.1"/>
<line x1="51.10" y1="559.20" x2="55.30" y2="559.20" stroke="#000" stroke-width="1.1"/>
<line x1="52.70" y1="556.08" x2="55.30" y2="556.08" stroke="#000" stroke-width="1.1"/>
<line x1="52.70" y1="552.96" x2="55.30" y2="552.96" stroke="#000" stroke-width="1.1"/>
<line x1="52.70" y1="549.84" x2="55.30" y2="549.84" stroke="#000" stroke-width="1.1"/>
<line x1="52.70" y1="546.72" x2="55.30" y2="546.72" stroke="#000" stroke-width="1.1"/>
<line x1="51.10" y1="543.60" x2="55.30" y2="543.60" stroke="#000" stroke-width="1.1"/>
<line x1="52.70" y1="540.48" x2="55.30" y2="540.48" stroke="#000" stroke-width="1.1"/>
<line x1="52.70" y1="537.36" x2="55.30" y2="537.36" stroke="#000" stroke-width="1.1"/>
<line x1="52.70" y1="534.24" x2="55.30" y2="534.24" stroke="#000" stroke-width="1.1"/>
<line x1="52.70" y1="531.12" x2="55.30" y2="531.12" stroke="#000" stroke-width="1.1"/>
<line x1="51.10" y1="528.00" x2="55.30" y2="528.00" stroke="#000" stroke-width="1.1"/>
<line x1="52.70" y1="524.88" x2="55.30" y2="524.88" stroke="#000" stroke-width="1.1"/>
<line x1="52.70" y1="521.76" x2="55.30" y2="521.76" stroke="#000" stroke-width="1.1"/>
<line x1="52.70" y1="518.64" x2="55.30" y2="518.64" stroke="#000" stroke-width="1.1"/>
<line x1="52.70" y1="515.52" x2="55.30" y2="515.52" stroke="#000" stroke-width="1.1"/>
<line x1="51.10" y1="512.40" x2="55.30" y2="512.40" stroke="#000" stroke-width="1.1"/>
<line x1="52.70" y1="509.28" x2="55.30" y2="509.28" stroke="#000" stroke-width="1.1"/>
<line x1="52.70" y1="506.16" x2="55.30" y2="506.16" stroke="#000" stroke-width="1.1"/>
<line x1="52.70" y1="503.04" x2="55.30" y2="503.04" stroke="#000" stroke-width="1.1"/>
<line x1="52.70" y1="499.92" x2="55.30" y2="499.92" stroke="#000" stroke-width="1.1"/>
<line x1="51.10" y1="496.80" x2="55.30" y2="496.80" stroke="#000" stroke-width="1.1"/>
<line x1="52.70" y1="493.68" x2="55.30" y2="493.68" stroke="#000" stroke-width="1.1"/>
<line x1="52.70" y1="490.56" x2="55.30" y2="490.56" stroke="#000" stroke-width="1.1"/>
<line x1="52.70" y1="487.44" x2="55.30" y2="487.44" stroke="#000" stroke-width="1.1"/>
<line x1="52.70" y1="484.32" x2="55.30" y2="484.32" stroke="#000" stroke-width="1.1"/>
<line x1="51.10" y1="481.20" x2="55.30" y2="481.20" stroke="#000" stroke-width="1.1"/>
<line x1="52.70" y1="478.08" x2="55.30" y2="478.08" stroke="#000" stroke-width="1.1"/>
<line x1="52.70" y1="474.96" x2="55.30" y2="474.96" stroke="#000" stroke-width="1.1"/>
<line x1="52.70" y1="471.84" x2="55.30" y2="471.84" stroke="#000" stroke-width="1.1"/>
<line x1="52.70" y1="468.72" x2="55.30" y2="468.72" stroke="#000" stroke-width="1.1"/>
<line x1="51.10" y1="465.60" x2="55.30" y2="465.60" stroke="#000" stroke-width="1.1"/>
<line x1="52.70" y1="462.48" x2="55.30" y2="462.48" stroke="#000" stroke-width="1.1"/>
<line x1="52.70" y1="459.36" x2="55.30" y2="459.36" stroke="#000" stroke-width="1.1"/>
<line x1="52.70" y1="456.24" x2="55.30" y2="456.24" stroke="#000" stroke-width="1.1"/>
<line x1="52.70" y1="453.12" x2="55.30" y2="453.12" stroke="#000" stroke-width="1.1"/>
<line x1="51.10" y1="450.00" x2="55.30" y2="450.00" stroke="#000" stroke-width="1.1"/>
<text x="48.20" y="609.58" font-size="10.0" text-anchor="end" font-weight="normal" fill="#231f20" stroke="#231f20" stroke-width="0.08" letter-spacing="1.0">0</text>
<text x="48.20" y="593.98" font-size="10.0" text-anchor="end" font-weight="normal" fill="#231f20" stroke="#231f20" stroke-width="0.08" letter-spacing="1.0">10</text>
<text x="48.20" y="578.38" font-size="10.0" text-anchor="end" font-weight="normal" fill="#231f20" stroke="#231f20" stroke-width="0.08" letter-spacing="1.0">20</text>
<text x="48.20" y="562.78" font-size="10.0" text-anchor="end" font-weight="normal" fill="#231f20" stroke="#231f20" stroke-width="0.08" letter-spacing="1.0">30</text>
<text x="48.20" y="547.18" font-size="10.0" text-anchor="end" font-weight="normal" fill="#231f20" stroke="#231f20" stroke-width="0.08" letter-spacing="1.0">40</text>
<text x="48.20" y="531.58" font-size="10.0" text-anchor="end" font-weight="normal" fill="#231f20" stroke="#231f20" stroke-width="0.08" letter-spacing="1.0">50</text>
<text x="48.20" y="515.98" font-size="10.0" text-anchor="end" font-weight="normal" fill="#231f20" stroke="#231f20" stroke-width="0.08" letter-spacing="1.0">60</text>
<text x="48.20" y="500.38" font-size="10.0" text-anchor="end" font-weight="normal" fill="#231f20" stroke="#231f20" stroke-width="0.08" letter-spacing="1.0">70</text>
<text x="48.20" y="484.78" font-size="10.0" text-anchor="end" font-weight="normal" fill="#231f20" stroke="#231f20" stroke-width="0.08" letter-spacing="1.0">80</text>
<text x="48.20" y="469.18" font-size="10.0" text-anchor="end" font-weight="normal" fill="#231f20" stroke="#231f20" stroke-width="0.08" letter-spacing="1.0">90</text>
<text x="48.20" y="453.58" font-size="10.0" text-anchor="end" font-weight="normal" fill="#231f20" stroke="#231f20" stroke-width="0.08" letter-spacing="1.0">100</text>
<line x1="54.70" y1="606.00" x2="174.50" y2="606.00" stroke="#000" stroke-width="1.3"/>
<line x1="75.10" y1="606.00" x2="75.10" y2="609.80" stroke="#000" stroke-width="1.1"/>
<line x1="115.40" y1="606.00" x2="115.40" y2="609.80" stroke="#000" stroke-width="1.1"/>
<line x1="155.00" y1="606.00" x2="155.00" y2="609.80" stroke="#000" stroke-width="1.1"/>
<line x1="67.50" y1="578.08" x2="82.50" y2="570.74" stroke="#000" stroke-width="1.6"/>
<line x1="67.50" y1="580.57" x2="82.50" y2="577.14" stroke="#000" stroke-width="1.6"/>
<line x1="67.50" y1="583.07" x2="82.50" y2="575.42" stroke="#000" stroke-width="1.6"/>
<line x1="67.50" y1="584.94" x2="82.50" y2="577.92" stroke="#000" stroke-width="1.6"/>
<line x1="67.50" y1="593.99" x2="82.50" y2="576.67" stroke="#000" stroke-width="1.6"/>
<line x1="67.50" y1="596.95" x2="82.50" y2="589.15" stroke="#000" stroke-width="1.6"/>
<line x1="67.50" y1="581.04" x2="82.50" y2="573.24" stroke="#000" stroke-width="1.6"/>
<circle cx="67.50" cy="578.08" r="2.55" fill="#5a2368"/>
<circle cx="67.50" cy="580.57" r="2.55" fill="#5a2368"/>
<circle cx="67.50" cy="583.07" r="2.55" fill="#5a2368"/>
<circle cx="67.50" cy="584.94" r="2.55" fill="#5a2368"/>
<circle cx="67.50" cy="593.99" r="2.55" fill="#5a2368"/>
<circle cx="67.50" cy="596.95" r="2.55" fill="#5a2368"/>
<circle cx="67.50" cy="581.04" r="2.55" fill="#5a2368"/>
<rect x="80.30" y="568.54" width="4.40" height="4.40" fill="#14548c" stroke="#0d4577" stroke-width="0.6"/>
<rect x="80.30" y="574.94" width="4.40" height="4.40" fill="#14548c" stroke="#0d4577" stroke-width="0.6"/>
<rect x="80.30" y="573.22" width="4.40" height="4.40" fill="#14548c" stroke="#0d4577" stroke-width="0.6"/>
<rect x="80.30" y="575.72" width="4.40" height="4.40" fill="#14548c" stroke="#0d4577" stroke-width="0.6"/>
<rect x="80.30" y="574.47" width="4.40" height="4.40" fill="#14548c" stroke="#0d4577" stroke-width="0.6"/>
<rect x="80.30" y="586.95" width="4.40" height="4.40" fill="#14548c" stroke="#0d4577" stroke-width="0.6"/>
<rect x="80.30" y="571.04" width="4.40" height="4.40" fill="#14548c" stroke="#0d4577" stroke-width="0.6"/>
<line x1="107.80" y1="555.61" x2="122.80" y2="547.34" stroke="#000" stroke-width="1.6"/>
<line x1="107.80" y1="562.48" x2="122.80" y2="552.49" stroke="#000" stroke-width="1.6"/>
<line x1="107.80" y1="564.50" x2="122.80" y2="555.46" stroke="#000" stroke-width="1.6"/>
<line x1="107.80" y1="566.69" x2="122.80" y2="556.55" stroke="#000" stroke-width="1.6"/>
<line x1="107.80" y1="588.37" x2="122.80" y2="556.86" stroke="#000" stroke-width="1.6"/>
<line x1="107.80" y1="590.24" x2="122.80" y2="581.04" stroke="#000" stroke-width="1.6"/>
<circle cx="107.80" cy="555.61" r="2.55" fill="#5a2368"/>
<circle cx="107.80" cy="562.48" r="2.55" fill="#5a2368"/>
<circle cx="107.80" cy="564.50" r="2.55" fill="#5a2368"/>
<circle cx="107.80" cy="566.69" r="2.55" fill="#5a2368"/>
<circle cx="107.80" cy="588.37" r="2.55" fill="#5a2368"/>
<circle cx="107.80" cy="590.24" r="2.55" fill="#5a2368"/>
<rect x="120.60" y="545.14" width="4.40" height="4.40" fill="#14548c" stroke="#0d4577" stroke-width="0.6"/>
<rect x="120.60" y="550.29" width="4.40" height="4.40" fill="#14548c" stroke="#0d4577" stroke-width="0.6"/>
<rect x="120.60" y="553.26" width="4.40" height="4.40" fill="#14548c" stroke="#0d4577" stroke-width="0.6"/>
<rect x="120.60" y="554.35" width="4.40" height="4.40" fill="#14548c" stroke="#0d4577" stroke-width="0.6"/>
<rect x="120.60" y="554.66" width="4.40" height="4.40" fill="#14548c" stroke="#0d4577" stroke-width="0.6"/>
<rect x="120.60" y="578.84" width="4.40" height="4.40" fill="#14548c" stroke="#0d4577" stroke-width="0.6"/>
<line x1="147.40" y1="528.47" x2="162.40" y2="514.43" stroke="#000" stroke-width="1.6"/>
<line x1="147.40" y1="535.64" x2="162.40" y2="530.50" stroke="#000" stroke-width="1.6"/>
<line x1="147.40" y1="537.98" x2="162.40" y2="531.43" stroke="#000" stroke-width="1.6"/>
<line x1="147.40" y1="540.32" x2="162.40" y2="532.52" stroke="#000" stroke-width="1.6"/>
<line x1="147.40" y1="570.43" x2="162.40" y2="532.06" stroke="#000" stroke-width="1.6"/>
<line x1="147.40" y1="579.17" x2="162.40" y2="568.25" stroke="#000" stroke-width="1.6"/>
<line x1="147.40" y1="537.36" x2="162.40" y2="525.35" stroke="#000" stroke-width="1.6"/>
<line x1="147.40" y1="537.98" x2="162.40" y2="528.31" stroke="#000" stroke-width="1.6"/>
<circle cx="147.40" cy="528.47" r="2.55" fill="#5a2368"/>
<circle cx="147.40" cy="535.64" r="2.55" fill="#5a2368"/>
<circle cx="147.40" cy="537.98" r="2.55" fill="#5a2368"/>
<circle cx="147.40" cy="540.32" r="2.55" fill="#5a2368"/>
<circle cx="147.40" cy="570.43" r="2.55" fill="#5a2368"/>
<circle cx="147.40" cy="579.17" r="2.55" fill="#5a2368"/>
<circle cx="147.40" cy="537.36" r="2.55" fill="#5a2368"/>
<circle cx="147.40" cy="537.98" r="2.55" fill="#5a2368"/>
<rect x="160.20" y="512.23" width="4.40" height="4.40" fill="#14548c" stroke="#0d4577" stroke-width="0.6"/>
<rect x="160.20" y="528.30" width="4.40" height="4.40" fill="#14548c" stroke="#0d4577" stroke-width="0.6"/>
<rect x="160.20" y="529.23" width="4.40" height="4.40" fill="#14548c" stroke="#0d4577" stroke-width="0.6"/>
<rect x="160.20" y="530.32" width="4.40" height="4.40" fill="#14548c" stroke="#0d4577" stroke-width="0.6"/>
<rect x="160.20" y="529.86" width="4.40" height="4.40" fill="#14548c" stroke="#0d4577" stroke-width="0.6"/>
<rect x="160.20" y="566.05" width="4.40" height="4.40" fill="#14548c" stroke="#0d4577" stroke-width="0.6"/>
<rect x="160.20" y="523.15" width="4.40" height="4.40" fill="#14548c" stroke="#0d4577" stroke-width="0.6"/>
<rect x="160.20" y="526.11" width="4.40" height="4.40" fill="#14548c" stroke="#0d4577" stroke-width="0.6"/>
<line x1="68.40" y1="461.40" x2="81.70" y2="461.40" stroke="#000" stroke-width="1.25"/>
<polygon points="75.05,453.00 75.70,454.31 77.14,454.52 76.10,455.54 76.34,456.98 75.05,456.30 73.76,456.98 74.00,455.54 72.96,454.52 74.40,454.31" fill="#000"/>
<line x1="108.20" y1="461.40" x2="121.30" y2="461.40" stroke="#000" stroke-width="1.25"/>
<polygon points="114.75,453.00 115.40,454.31 116.84,454.52 115.80,455.54 116.04,456.98 114.75,456.30 113.46,456.98 113.70,455.54 112.66,454.52 114.10,454.31" fill="#000"/>
<line x1="149.20" y1="461.40" x2="161.80" y2="461.40" stroke="#000" stroke-width="1.25"/>
<polygon points="155.50,453.00 156.15,454.31 157.59,454.52 156.55,455.54 156.79,456.98 155.50,456.30 154.21,456.98 154.45,455.54 153.41,454.52 154.85,454.31" fill="#000"/>
<line x1="183.00" y1="450.50" x2="196.20" y2="450.50" stroke="#000" stroke-width="1.7"/>
<circle cx="189.6" cy="450.50" r="2.6" fill="#5a2368"/>
<line x1="183.00" y1="464.20" x2="196.20" y2="464.20" stroke="#000" stroke-width="1.7"/>
<rect x="187.20" y="461.80" width="4.80" height="4.80" fill="#14548c" stroke="#0d4577" stroke-width="0.6"/>
<text x="201.80" y="454.10" font-size="9.6" text-anchor="start" font-weight="normal" fill="#231f20" stroke="#231f20" stroke-width="0.08">Mock</text>
<text x="201.80" y="467.30" font-size="9.6" text-anchor="start" font-weight="normal" fill="#231f20" stroke="#231f20" stroke-width="0.08">Sig-7 KO</text>
<text x="75.10" y="623.30" font-size="10" text-anchor="middle" font-weight="normal" fill="#231f20" stroke="#231f20" stroke-width="0.08">1:1</text>
<text x="115.40" y="623.30" font-size="10" text-anchor="middle" font-weight="normal" fill="#231f20" stroke="#231f20" stroke-width="0.08">2.5:1</text>
<text x="155.00" y="623.30" font-size="10" text-anchor="middle" font-weight="normal" fill="#231f20" stroke="#231f20" stroke-width="0.08">5:1</text>
<text x="114.45" y="640.60" font-size="11.8" text-anchor="middle" fill="#231f20" stroke="#231f20" stroke-width="0.25" textLength="33.30" lengthAdjust="spacingAndGlyphs">E:T ratio</text>
<text transform="translate(19.20,527.70) rotate(-90)" x="0" y="0" font-size="11.8" text-anchor="middle" fill="#231f20" stroke="#231f20" stroke-width="0.25" textLength="62.40" lengthAdjust="spacingAndGlyphs">% Specific lysis</text>
<line x1="346.20" y1="228.10" x2="346.20" y2="389.20" stroke="#000" stroke-width="1.3"/>
<line x1="341.60" y1="388.60" x2="346.20" y2="388.60" stroke="#000" stroke-width="1.1"/>
<text x="339.40" y="392.18" font-size="10" text-anchor="end" font-weight="normal" fill="#231f20" stroke="#231f20" stroke-width="0.08" letter-spacing="0.7">0.0</text>
<line x1="341.60" y1="357.60" x2="346.20" y2="357.60" stroke="#000" stroke-width="1.1"/>
<text x="339.40" y="361.18" font-size="10" text-anchor="end" font-weight="normal" fill="#231f20" stroke="#231f20" stroke-width="0.08" letter-spacing="0.7">0.5</text>
<line x1="341.60" y1="326.60" x2="346.20" y2="326.60" stroke="#000" stroke-width="1.1"/>
<text x="339.40" y="330.18" font-size="10" text-anchor="end" font-weight="normal" fill="#231f20" stroke="#231f20" stroke-width="0.08" letter-spacing="0.7">1.0</text>
<line x1="341.60" y1="295.60" x2="346.20" y2="295.60" stroke="#000" stroke-width="1.1"/>
<text x="339.40" y="299.18" font-size="10" text-anchor="end" font-weight="normal" fill="#231f20" stroke="#231f20" stroke-width="0.08" letter-spacing="0.7">1.5</text>
<line x1="341.60" y1="264.60" x2="346.20" y2="264.60" stroke="#000" stroke-width="1.1"/>
<text x="339.40" y="268.18" font-size="10" text-anchor="end" font-weight="normal" fill="#231f20" stroke="#231f20" stroke-width="0.08" letter-spacing="0.7">2.0</text>
<line x1="341.60" y1="233.60" x2="346.20" y2="233.60" stroke="#000" stroke-width="1.1"/>
<text x="339.40" y="237.18" font-size="10" text-anchor="end" font-weight="normal" fill="#231f20" stroke="#231f20" stroke-width="0.08" letter-spacing="0.7">2.5</text>
<line x1="345.60" y1="388.60" x2="465.60" y2="388.60" stroke="#000" stroke-width="1.3"/>
<line x1="365.90" y1="388.60" x2="365.90" y2="392.40" stroke="#000" stroke-width="1.1"/>
<rect x="353.00" y="326.90" width="10.40" height="61.70" fill="#5a2368" stroke="#48145a" stroke-width="0.6"/>
<line x1="373.70" y1="288.41" x2="373.70" y2="270.18" stroke="#111" stroke-width="1.1"/>
<line x1="370.90" y1="270.18" x2="376.50" y2="270.18" stroke="#111" stroke-width="1.1"/>
<rect x="368.40" y="288.71" width="10.60" height="99.89" fill="#3cb44b" stroke="#2a9f3c" stroke-width="0.6"/>
<text x="365.90" y="406.00" font-size="10" text-anchor="middle" font-weight="normal" fill="#231f20" stroke="#231f20" stroke-width="0.08">1:1</text>
<line x1="405.90" y1="388.60" x2="405.90" y2="392.40" stroke="#000" stroke-width="1.1"/>
<rect x="393.00" y="326.90" width="10.40" height="61.70" fill="#5a2368" stroke="#48145a" stroke-width="0.6"/>
<line x1="413.70" y1="290.21" x2="413.70" y2="274.89" stroke="#111" stroke-width="1.1"/>
<line x1="410.90" y1="274.89" x2="416.50" y2="274.89" stroke="#111" stroke-width="1.1"/>
<rect x="408.40" y="290.51" width="10.60" height="98.09" fill="#3cb44b" stroke="#2a9f3c" stroke-width="0.6"/>
<text x="405.90" y="406.00" font-size="10" text-anchor="middle" font-weight="normal" fill="#231f20" stroke="#231f20" stroke-width="0.08">2.5:1</text>
<line x1="445.90" y1="388.60" x2="445.90" y2="392.40" stroke="#000" stroke-width="1.1"/>
<rect x="433.00" y="326.90" width="10.40" height="61.70" fill="#5a2368" stroke="#48145a" stroke-width="0.6"/>
<line x1="453.70" y1="307.50" x2="453.70" y2="301.30" stroke="#111" stroke-width="1.1"/>
<line x1="450.90" y1="301.30" x2="456.50" y2="301.30" stroke="#111" stroke-width="1.1"/>
<rect x="448.40" y="307.80" width="10.60" height="80.80" fill="#3cb44b" stroke="#2a9f3c" stroke-width="0.6"/>
<text x="445.90" y="406.00" font-size="10" text-anchor="middle" font-weight="normal" fill="#231f20" stroke="#231f20" stroke-width="0.08">5:1</text>
<text x="403.65" y="422.70" font-size="11.8" text-anchor="middle" fill="#231f20" stroke="#231f20" stroke-width="0.25" textLength="32.50" lengthAdjust="spacingAndGlyphs">E:T ratio</text>
<text transform="translate(312.00,310.90) rotate(-90)" x="0" y="0" font-size="11.8" text-anchor="middle" fill="#231f20" stroke="#231f20" stroke-width="0.25" textLength="111.50" lengthAdjust="spacingAndGlyphs">Fold change of specific lysis</text>
<rect x="458.50" y="232.60" width="8.10" height="7.90" fill="#5a2368" stroke="#48145a" stroke-width="0.6"/>
<rect x="458.50" y="248.00" width="8.10" height="7.90" fill="#3cb44b" stroke="#2a9f3c" stroke-width="0.6"/>
<text x="471.50" y="239.60" font-size="9.5" text-anchor="start" font-weight="normal" fill="#231f20" stroke="#231f20" stroke-width="0.08">Mock</text>
<text x="471.50" y="255.00" font-size="9.5" text-anchor="start" font-weight="normal" fill="#231f20" stroke="#231f20" stroke-width="0.08">Sig-7 KO</text>
<line x1="346.20" y1="443.70" x2="346.20" y2="606.70" stroke="#000" stroke-width="1.3"/>
<line x1="341.60" y1="606.10" x2="346.20" y2="606.10" stroke="#000" stroke-width="1.1"/>
<text x="339.40" y="609.68" font-size="10" text-anchor="end" font-weight="normal" fill="#231f20" stroke="#231f20" stroke-width="0.08" letter-spacing="0.7">0.0</text>
<line x1="341.60" y1="567.00" x2="346.20" y2="567.00" stroke="#000" stroke-width="1.1"/>
<text x="339.40" y="570.58" font-size="10" text-anchor="end" font-weight="normal" fill="#231f20" stroke="#231f20" stroke-width="0.08" letter-spacing="0.7">0.5</text>
<line x1="341.60" y1="527.90" x2="346.20" y2="527.90" stroke="#000" stroke-width="1.1"/>
<text x="339.40" y="531.48" font-size="10" text-anchor="end" font-weight="normal" fill="#231f20" stroke="#231f20" stroke-width="0.08" letter-spacing="0.7">1.0</text>
<line x1="341.60" y1="488.80" x2="346.20" y2="488.80" stroke="#000" stroke-width="1.1"/>
<text x="339.40" y="492.38" font-size="10" text-anchor="end" font-weight="normal" fill="#231f20" stroke="#231f20" stroke-width="0.08" letter-spacing="0.7">1.5</text>
<line x1="341.60" y1="449.70" x2="346.20" y2="449.70" stroke="#000" stroke-width="1.1"/>
<text x="339.40" y="453.28" font-size="10" text-anchor="end" font-weight="normal" fill="#231f20" stroke="#231f20" stroke-width="0.08" letter-spacing="0.7">2.0</text>
<line x1="345.60" y1="606.10" x2="465.60" y2="606.10" stroke="#000" stroke-width="1.3"/>
<line x1="366.50" y1="606.10" x2="366.50" y2="609.90" stroke="#000" stroke-width="1.1"/>
<rect x="353.60" y="528.20" width="10.40" height="77.90" fill="#5a2368" stroke="#48145a" stroke-width="0.6"/>
<line x1="374.30" y1="479.42" x2="374.30" y2="456.74" stroke="#111" stroke-width="1.1"/>
<line x1="371.50" y1="456.74" x2="377.10" y2="456.74" stroke="#111" stroke-width="1.1"/>
<rect x="369.00" y="479.72" width="10.60" height="126.38" fill="#14548c" stroke="#0d4577" stroke-width="0.6"/>
<text x="366.50" y="623.30" font-size="10" text-anchor="middle" font-weight="normal" fill="#231f20" stroke="#231f20" stroke-width="0.08">1:1</text>
<line x1="406.90" y1="606.10" x2="406.90" y2="609.90" stroke="#000" stroke-width="1.1"/>
<rect x="394.00" y="528.20" width="10.40" height="77.90" fill="#5a2368" stroke="#48145a" stroke-width="0.6"/>
<line x1="414.70" y1="486.53" x2="414.70" y2="464.64" stroke="#111" stroke-width="1.1"/>
<line x1="411.90" y1="464.64" x2="417.50" y2="464.64" stroke="#111" stroke-width="1.1"/>
<rect x="409.40" y="486.83" width="10.60" height="119.27" fill="#14548c" stroke="#0d4577" stroke-width="0.6"/>
<text x="406.90" y="623.30" font-size="10" text-anchor="middle" font-weight="normal" fill="#231f20" stroke="#231f20" stroke-width="0.08">2.5:1</text>
<line x1="447.20" y1="606.10" x2="447.20" y2="609.90" stroke="#000" stroke-width="1.1"/>
<rect x="434.30" y="528.20" width="10.40" height="77.90" fill="#5a2368" stroke="#48145a" stroke-width="0.6"/>
<line x1="455.00" y1="501.55" x2="455.00" y2="489.58" stroke="#111" stroke-width="1.1"/>
<line x1="452.20" y1="489.58" x2="457.80" y2="489.58" stroke="#111" stroke-width="1.1"/>
<rect x="449.70" y="501.85" width="10.60" height="104.25" fill="#14548c" stroke="#0d4577" stroke-width="0.6"/>
<text x="447.20" y="623.30" font-size="10" text-anchor="middle" font-weight="normal" fill="#231f20" stroke="#231f20" stroke-width="0.08">5:1</text>
<text x="405.75" y="640.60" font-size="11.8" text-anchor="middle" fill="#231f20" stroke="#231f20" stroke-width="0.25" textLength="32.90" lengthAdjust="spacingAndGlyphs">E:T ratio</text>
<text transform="translate(312.00,529.60) rotate(-90)" x="0" y="0" font-size="11.8" text-anchor="middle" fill="#231f20" stroke="#231f20" stroke-width="0.25" textLength="115.50" lengthAdjust="spacingAndGlyphs">Fold change of specific lysis</text>
<rect x="458.50" y="447.90" width="8.10" height="7.90" fill="#5a2368" stroke="#48145a" stroke-width="0.6"/>
<rect x="458.50" y="464.10" width="8.10" height="7.90" fill="#14548c" stroke="#0d4577" stroke-width="0.6"/>
<text x="471.50" y="454.90" font-size="9.5" text-anchor="start" font-weight="normal" fill="#231f20" stroke="#231f20" stroke-width="0.08">Mock</text>
<text x="471.50" y="471.10" font-size="9.5" text-anchor="start" font-weight="normal" fill="#231f20" stroke="#231f20" stroke-width="0.08">Sig-7 KO</text>
<text x="9.80" y="663.60" font-size="15.4" font-weight="bold" fill="#000" stroke="#000" stroke-width="0.3">E</text>
<path d="M50.90,816.30 L50.90,816.30 L55.20,814.00 L59.50,810.60 L63.80,803.40 L66.70,796.10 L69.60,787.50 L71.90,778.80 L73.90,770.20 L75.40,761.50 L76.80,756.30 L77.70,755.20 L78.80,758.70 L80.60,767.30 L82.60,776.00 L84.60,783.20 L86.90,790.40 L89.20,797.60 L90.70,800.50 L92.10,797.60 L94.10,795.60 L96.10,794.70 L97.90,790.40 L99.90,781.70 L101.90,774.50 L104.20,767.30 L106.50,761.50 L108.60,757.20 L111.40,755.20 L114.30,755.80 L115.80,761.50 L118.10,773.10 L120.10,780.30 L122.10,784.60 L124.40,793.30 L126.70,801.90 L129.60,810.60 L132.50,815.80 L134.50,816.30 L134.50,816.30 Z" fill="#e89ca8" fill-opacity="1.0" stroke="none"/>
<path d="M50.90,816.30 L55.20,814.00 L59.50,810.60 L63.80,803.40 L66.70,796.10 L69.60,787.50 L71.90,778.80 L73.90,770.20 L75.40,761.50 L76.80,756.30 L77.70,755.20 L78.80,758.70 L80.60,767.30 L82.60,776.00 L84.60,783.20 L86.90,790.40 L89.20,797.60 L90.70,800.50 L92.10,797.60 L94.10,795.60 L96.10,794.70 L97.90,790.40 L99.90,781.70 L101.90,774.50 L104.20,767.30 L106.50,761.50 L108.60,757.20 L111.40,755.20 L114.30,755.80 L115.80,761.50 L118.10,773.10 L120.10,780.30 L122.10,784.60 L124.40,793.30 L126.70,801.90 L129.60,810.60 L132.50,815.80 L134.50,816.30" fill="none" stroke="#c8102e" stroke-width="1.25" stroke-linejoin="round"/>
<path d="M35.80,779.90 L35.80,779.90 L49.40,778.50 L55.20,775.60 L61.00,770.70 L65.30,764.90 L68.20,757.70 L70.00,750.00 L71.50,745.00 L72.20,742.80 L73.00,737.40 L73.80,729.70 L74.90,725.80 L76.50,724.10 L77.60,725.50 L78.40,731.60 L80.00,732.80 L81.10,733.20 L82.20,735.00 L83.00,737.40 L84.20,742.80 L85.20,750.00 L86.50,755.50 L88.40,761.00 L90.50,763.60 L92.50,764.40 L94.20,763.00 L95.50,760.00 L96.50,756.00 L97.50,751.30 L98.75,747.50 L101.25,744.40 L103.10,740.00 L103.75,731.25 L105.00,730.00 L106.90,725.00 L108.10,724.40 L109.40,720.00 L111.40,715.00 L113.50,714.40 L115.80,718.70 L118.10,724.50 L120.10,731.70 L121.50,741.80 L123.80,754.80 L126.70,766.30 L130.20,774.40 L134.50,778.50 L141.70,779.90 L181.00,779.90 L181.00,779.90 Z" fill="#7095ba" fill-opacity="0.72" stroke="none"/>
<path d="M35.80,779.90 L49.40,778.50 L55.20,775.60 L61.00,770.70 L65.30,764.90 L68.20,757.70 L70.00,750.00 L71.50,745.00 L72.20,742.80 L73.00,737.40 L73.80,729.70 L74.90,725.80 L76.50,724.10 L77.60,725.50 L78.40,731.60 L80.00,732.80 L81.10,733.20 L82.20,735.00 L83.00,737.40 L84.20,742.80 L85.20,750.00 L86.50,755.50 L88.40,761.00 L90.50,763.60 L92.50,764.40 L94.20,763.00 L95.50,760.00 L96.50,756.00 L97.50,751.30 L98.75,747.50 L101.25,744.40 L103.10,740.00 L103.75,731.25 L105.00,730.00 L106.90,725.00 L108.10,724.40 L109.40,720.00 L111.40,715.00 L113.50,714.40 L115.80,718.70 L118.10,724.50 L120.10,731.70 L121.50,741.80 L123.80,754.80 L126.70,766.30 L130.20,774.40 L134.50,778.50 L141.70,779.90 L181.00,779.90" fill="none" stroke="#1c5b97" stroke-width="1.25" stroke-linejoin="round"/>
<path d="M36.00,742.70 L36.00,742.70 L48.70,741.40 L56.10,737.80 L61.30,731.40 L65.60,721.90 L68.10,713.50 L69.80,702.90 L71.90,694.40 L74.00,688.10 L75.10,679.60 L76.20,677.90 L77.50,679.00 L78.70,678.60 L80.00,681.30 L81.40,687.00 L82.90,698.70 L84.60,711.30 L86.70,726.20 L88.90,734.60 L92.00,739.90 L97.30,742.00 L103.70,742.70 L181.00,742.70 L181.00,742.70 Z" fill="#9cd69f" fill-opacity="0.78" stroke="none"/>
<path d="M36.00,742.70 L48.70,741.40 L56.10,737.80 L61.30,731.40 L65.60,721.90 L68.10,713.50 L69.80,702.90 L71.90,694.40 L74.00,688.10 L75.10,679.60 L76.20,677.90 L77.50,679.00 L78.70,678.60 L80.00,681.30 L81.40,687.00 L82.90,698.70 L84.60,711.30 L86.70,726.20 L88.90,734.60 L92.00,739.90 L97.30,742.00 L103.70,742.70 L181.00,742.70" fill="none" stroke="#3cb44b" stroke-width="1.25" stroke-linejoin="round"/>
<rect x="35.3" y="668.6" width="146.2" height="147.8" fill="none" stroke="#000" stroke-width="1.5"/>
<line x1="52.00" y1="816.80" x2="52.00" y2="819.50" stroke="#000" stroke-width="1.0"/>
<line x1="48.60" y1="816.80" x2="48.60" y2="819.50" stroke="#000" stroke-width="1.0"/>
<line x1="45.20" y1="816.80" x2="45.20" y2="819.50" stroke="#000" stroke-width="1.0"/>
<line x1="41.80" y1="816.80" x2="41.80" y2="819.50" stroke="#000" stroke-width="1.0"/>
<line x1="38.40" y1="816.80" x2="38.40" y2="819.50" stroke="#000" stroke-width="1.0"/>
<line x1="55.40" y1="816.80" x2="55.40" y2="819.50" stroke="#000" stroke-width="1.0"/>
<line x1="58.80" y1="816.80" x2="58.80" y2="819.50" stroke="#000" stroke-width="1.0"/>
<line x1="62.20" y1="816.80" x2="62.20" y2="819.50" stroke="#000" stroke-width="1.0"/>
<line x1="65.60" y1="816.80" x2="65.60" y2="819.50" stroke="#000" stroke-width="1.0"/>
<line x1="69.00" y1="816.80" x2="69.00" y2="819.50" stroke="#000" stroke-width="1.0"/>
<line x1="72.40" y1="816.80" x2="72.40" y2="819.50" stroke="#000" stroke-width="1.0"/>
<line x1="75.80" y1="816.80" x2="75.80" y2="819.50" stroke="#000" stroke-width="1.0"/>
<line x1="79.20" y1="816.80" x2="79.20" y2="819.50" stroke="#000" stroke-width="1.0"/>
<line x1="82.60" y1="816.80" x2="82.60" y2="819.50" stroke="#000" stroke-width="1.0"/>
<line x1="86.00" y1="816.80" x2="86.00" y2="819.50" stroke="#000" stroke-width="1.0"/>
<line x1="89.40" y1="816.80" x2="89.40" y2="819.50" stroke="#000" stroke-width="1.0"/>
<line x1="92.80" y1="816.80" x2="92.80" y2="819.50" stroke="#000" stroke-width="1.0"/>
<line x1="96.20" y1="816.80" x2="96.20" y2="819.50" stroke="#000" stroke-width="1.0"/>
<line x1="99.60" y1="816.80" x2="99.60" y2="819.50" stroke="#000" stroke-width="1.0"/>
<line x1="103.00" y1="816.80" x2="103.00" y2="821.30" stroke="#000" stroke-width="1.0"/>
<line x1="113.24" y1="816.80" x2="113.24" y2="819.50" stroke="#000" stroke-width="1.0"/>
<line x1="119.22" y1="816.80" x2="119.22" y2="819.50" stroke="#000" stroke-width="1.0"/>
<line x1="123.47" y1="816.80" x2="123.47" y2="819.50" stroke="#000" stroke-width="1.0"/>
<line x1="126.76" y1="816.80" x2="126.76" y2="819.50" stroke="#000" stroke-width="1.0"/>
<line x1="129.46" y1="816.80" x2="129.46" y2="819.50" stroke="#000" stroke-width="1.0"/>
<line x1="131.73" y1="816.80" x2="131.73" y2="819.50" stroke="#000" stroke-width="1.0"/>
<line x1="133.71" y1="816.80" x2="133.71" y2="819.50" stroke="#000" stroke-width="1.0"/>
<line x1="135.44" y1="816.80" x2="135.44" y2="819.50" stroke="#000" stroke-width="1.0"/>
<line x1="137.00" y1="816.80" x2="137.00" y2="821.30" stroke="#000" stroke-width="1.0"/>
<line x1="147.24" y1="816.80" x2="147.24" y2="819.50" stroke="#000" stroke-width="1.0"/>
<line x1="153.22" y1="816.80" x2="153.22" y2="819.50" stroke="#000" stroke-width="1.0"/>
<line x1="157.47" y1="816.80" x2="157.47" y2="819.50" stroke="#000" stroke-width="1.0"/>
<line x1="160.76" y1="816.80" x2="160.76" y2="819.50" stroke="#000" stroke-width="1.0"/>
<line x1="163.46" y1="816.80" x2="163.46" y2="819.50" stroke="#000" stroke-width="1.0"/>
<line x1="165.73" y1="816.80" x2="165.73" y2="819.50" stroke="#000" stroke-width="1.0"/>
<line x1="167.71" y1="816.80" x2="167.71" y2="819.50" stroke="#000" stroke-width="1.0"/>
<line x1="169.44" y1="816.80" x2="169.44" y2="819.50" stroke="#000" stroke-width="1.0"/>
<line x1="171.00" y1="816.80" x2="171.00" y2="821.30" stroke="#000" stroke-width="1.0"/>
<line x1="44.00" y1="816.80" x2="44.00" y2="820.50" stroke="#000" stroke-width="1.0"/>
<line x1="52.00" y1="816.80" x2="52.00" y2="820.50" stroke="#000" stroke-width="1.0"/>
<line x1="59.00" y1="816.80" x2="59.00" y2="820.50" stroke="#000" stroke-width="1.0"/>
<text x="50.90" y="831.50" font-size="10" text-anchor="middle" font-weight="normal" fill="#231f20" stroke="#231f20" stroke-width="0.08">0</text>
<text x="102.00" y="831.50" font-size="10" text-anchor="middle" font-weight="normal" fill="#231f20" stroke="#231f20" stroke-width="0.08">10</text>
<text x="107.80" y="827.20" font-size="6.8" text-anchor="start" font-weight="normal" fill="#231f20" stroke="#231f20" stroke-width="0.08">3</text>
<text x="134.20" y="831.50" font-size="10" text-anchor="middle" font-weight="normal" fill="#231f20" stroke="#231f20" stroke-width="0.08">10</text>
<text x="140.00" y="827.20" font-size="6.8" text-anchor="start" font-weight="normal" fill="#231f20" stroke="#231f20" stroke-width="0.08">4</text>
<text x="168.00" y="831.50" font-size="10" text-anchor="middle" font-weight="normal" fill="#231f20" stroke="#231f20" stroke-width="0.08">10</text>
<text x="173.80" y="827.20" font-size="6.8" text-anchor="start" font-weight="normal" fill="#231f20" stroke="#231f20" stroke-width="0.08">5</text>
<text x="108.30" y="848.60" font-size="11.8" text-anchor="middle" fill="#231f20" stroke="#231f20" stroke-width="0.25" textLength="20.20" lengthAdjust="spacingAndGlyphs">CD16</text>
<text x="224.80" y="663.60" font-size="15.4" font-weight="bold" fill="#000" stroke="#000" stroke-width="0.3">F</text>
<line x1="270.00" y1="668.80" x2="270.00" y2="821.30" stroke="#000" stroke-width="1.3"/>
<line x1="265.80" y1="820.70" x2="270.00" y2="820.70" stroke="#000" stroke-width="1.1"/>
<line x1="267.40" y1="817.77" x2="270.00" y2="817.77" stroke="#000" stroke-width="1.1"/>
<line x1="267.40" y1="814.83" x2="270.00" y2="814.83" stroke="#000" stroke-width="1.1"/>
<line x1="267.40" y1="811.90" x2="270.00" y2="811.90" stroke="#000" stroke-width="1.1"/>
<line x1="267.40" y1="808.96" x2="270.00" y2="808.96" stroke="#000" stroke-width="1.1"/>
<line x1="265.80" y1="806.03" x2="270.00" y2="806.03" stroke="#000" stroke-width="1.1"/>
<line x1="267.40" y1="803.10" x2="270.00" y2="803.10" stroke="#000" stroke-width="1.1"/>
<line x1="267.40" y1="800.16" x2="270.00" y2="800.16" stroke="#000" stroke-width="1.1"/>
<line x1="267.40" y1="797.23" x2="270.00" y2="797.23" stroke="#000" stroke-width="1.1"/>
<line x1="267.40" y1="794.29" x2="270.00" y2="794.29" stroke="#000" stroke-width="1.1"/>
<line x1="265.80" y1="791.36" x2="270.00" y2="791.36" stroke="#000" stroke-width="1.1"/>
<line x1="267.40" y1="788.43" x2="270.00" y2="788.43" stroke="#000" stroke-width="1.1"/>
<line x1="267.40" y1="785.49" x2="270.00" y2="785.49" stroke="#000" stroke-width="1.1"/>
<line x1="267.40" y1="782.56" x2="270.00" y2="782.56" stroke="#000" stroke-width="1.1"/>
<line x1="267.40" y1="779.62" x2="270.00" y2="779.62" stroke="#000" stroke-width="1.1"/>
<line x1="265.80" y1="776.69" x2="270.00" y2="776.69" stroke="#000" stroke-width="1.1"/>
<line x1="267.40" y1="773.76" x2="270.00" y2="773.76" stroke="#000" stroke-width="1.1"/>
<line x1="267.40" y1="770.82" x2="270.00" y2="770.82" stroke="#000" stroke-width="1.1"/>
<line x1="267.40" y1="767.89" x2="270.00" y2="767.89" stroke="#000" stroke-width="1.1"/>
<line x1="267.40" y1="764.95" x2="270.00" y2="764.95" stroke="#000" stroke-width="1.1"/>
<line x1="265.80" y1="762.02" x2="270.00" y2="762.02" stroke="#000" stroke-width="1.1"/>
<line x1="267.40" y1="759.09" x2="270.00" y2="759.09" stroke="#000" stroke-width="1.1"/>
<line x1="267.40" y1="756.15" x2="270.00" y2="756.15" stroke="#000" stroke-width="1.1"/>
<line x1="267.40" y1="753.22" x2="270.00" y2="753.22" stroke="#000" stroke-width="1.1"/>
<line x1="267.40" y1="750.28" x2="270.00" y2="750.28" stroke="#000" stroke-width="1.1"/>
<line x1="265.80" y1="747.35" x2="270.00" y2="747.35" stroke="#000" stroke-width="1.1"/>
<line x1="267.40" y1="744.42" x2="270.00" y2="744.42" stroke="#000" stroke-width="1.1"/>
<line x1="267.40" y1="741.48" x2="270.00" y2="741.48" stroke="#000" stroke-width="1.1"/>
<line x1="267.40" y1="738.55" x2="270.00" y2="738.55" stroke="#000" stroke-width="1.1"/>
<line x1="267.40" y1="735.61" x2="270.00" y2="735.61" stroke="#000" stroke-width="1.1"/>
<line x1="265.80" y1="732.68" x2="270.00" y2="732.68" stroke="#000" stroke-width="1.1"/>
<line x1="267.40" y1="729.75" x2="270.00" y2="729.75" stroke="#000" stroke-width="1.1"/>
<line x1="267.40" y1="726.81" x2="270.00" y2="726.81" stroke="#000" stroke-width="1.1"/>
<line x1="267.40" y1="723.88" x2="270.00" y2="723.88" stroke="#000" stroke-width="1.1"/>
<line x1="267.40" y1="720.94" x2="270.00" y2="720.94" stroke="#000" stroke-width="1.1"/>
<line x1="265.80" y1="718.01" x2="270.00" y2="718.01" stroke="#000" stroke-width="1.1"/>
<line x1="267.40" y1="715.08" x2="270.00" y2="715.08" stroke="#000" stroke-width="1.1"/>
<line x1="267.40" y1="712.14" x2="270.00" y2="712.14" stroke="#000" stroke-width="1.1"/>
<line x1="267.40" y1="709.21" x2="270.00" y2="709.21" stroke="#000" stroke-width="1.1"/>
<line x1="267.40" y1="706.27" x2="270.00" y2="706.27" stroke="#000" stroke-width="1.1"/>
<line x1="265.80" y1="703.34" x2="270.00" y2="703.34" stroke="#000" stroke-width="1.1"/>
<line x1="267.40" y1="700.41" x2="270.00" y2="700.41" stroke="#000" stroke-width="1.1"/>
<line x1="267.40" y1="697.47" x2="270.00" y2="697.47" stroke="#000" stroke-width="1.1"/>
<line x1="267.40" y1="694.54" x2="270.00" y2="694.54" stroke="#000" stroke-width="1.1"/>
<line x1="267.40" y1="691.60" x2="270.00" y2="691.60" stroke="#000" stroke-width="1.1"/>
<line x1="265.80" y1="688.67" x2="270.00" y2="688.67" stroke="#000" stroke-width="1.1"/>
<line x1="267.40" y1="685.74" x2="270.00" y2="685.74" stroke="#000" stroke-width="1.1"/>
<line x1="267.40" y1="682.80" x2="270.00" y2="682.80" stroke="#000" stroke-width="1.1"/>
<line x1="267.40" y1="679.87" x2="270.00" y2="679.87" stroke="#000" stroke-width="1.1"/>
<line x1="267.40" y1="676.93" x2="270.00" y2="676.93" stroke="#000" stroke-width="1.1"/>
<line x1="265.80" y1="674.00" x2="270.00" y2="674.00" stroke="#000" stroke-width="1.1"/>
<text x="262.70" y="823.98" font-size="10.0" text-anchor="end" font-weight="normal" fill="#231f20" stroke="#231f20" stroke-width="0.08" letter-spacing="1.0">0</text>
<text x="262.70" y="809.31" font-size="10.0" text-anchor="end" font-weight="normal" fill="#231f20" stroke="#231f20" stroke-width="0.08" letter-spacing="1.0">10</text>
<text x="262.70" y="794.64" font-size="10.0" text-anchor="end" font-weight="normal" fill="#231f20" stroke="#231f20" stroke-width="0.08" letter-spacing="1.0">20</text>
<text x="262.70" y="779.97" font-size="10.0" text-anchor="end" font-weight="normal" fill="#231f20" stroke="#231f20" stroke-width="0.08" letter-spacing="1.0">30</text>
<text x="262.70" y="765.30" font-size="10.0" text-anchor="end" font-weight="normal" fill="#231f20" stroke="#231f20" stroke-width="0.08" letter-spacing="1.0">40</text>
<text x="262.70" y="750.63" font-size="10.0" text-anchor="end" font-weight="normal" fill="#231f20" stroke="#231f20" stroke-width="0.08" letter-spacing="1.0">50</text>
<text x="262.70" y="735.96" font-size="10.0" text-anchor="end" font-weight="normal" fill="#231f20" stroke="#231f20" stroke-width="0.08" letter-spacing="1.0">60</text>
<text x="262.70" y="721.29" font-size="10.0" text-anchor="end" font-weight="normal" fill="#231f20" stroke="#231f20" stroke-width="0.08" letter-spacing="1.0">70</text>
<text x="262.70" y="706.62" font-size="10.0" text-anchor="end" font-weight="normal" fill="#231f20" stroke="#231f20" stroke-width="0.08" letter-spacing="1.0">80</text>
<text x="262.70" y="691.95" font-size="10.0" text-anchor="end" font-weight="normal" fill="#231f20" stroke="#231f20" stroke-width="0.08" letter-spacing="1.0">90</text>
<text x="262.70" y="677.28" font-size="10.0" text-anchor="end" font-weight="normal" fill="#231f20" stroke="#231f20" stroke-width="0.08" letter-spacing="1.0">100</text>
<line x1="269.40" y1="820.70" x2="440.40" y2="820.70" stroke="#000" stroke-width="1.3"/>
<line x1="280.60" y1="799.72" x2="280.60" y2="795.32" stroke="#111" stroke-width="1.3"/>
<line x1="278.30" y1="795.32" x2="282.90" y2="795.32" stroke="#111" stroke-width="1.5"/>
<rect x="276.30" y="800.02" width="8.60" height="20.68" fill="#5a2368" stroke="#48145a" stroke-width="0.6"/>
<line x1="292.85" y1="792.24" x2="292.85" y2="786.52" stroke="#111" stroke-width="1.3"/>
<line x1="290.55" y1="786.52" x2="295.15" y2="786.52" stroke="#111" stroke-width="1.5"/>
<rect x="288.55" y="792.54" width="8.60" height="28.16" fill="#14548c" stroke="#0d4577" stroke-width="0.6"/>
<line x1="305.10" y1="790.04" x2="305.10" y2="786.08" stroke="#111" stroke-width="1.3"/>
<line x1="302.80" y1="786.08" x2="307.40" y2="786.08" stroke="#111" stroke-width="1.5"/>
<rect x="300.80" y="790.34" width="8.60" height="30.36" fill="#c8102e" stroke="#b00c28" stroke-width="0.6"/>
<line x1="317.35" y1="780.36" x2="317.35" y2="776.25" stroke="#111" stroke-width="1.3"/>
<line x1="315.05" y1="776.25" x2="319.65" y2="776.25" stroke="#111" stroke-width="1.5"/>
<rect x="313.05" y="780.66" width="8.60" height="40.04" fill="#3cb44b" stroke="#2a9f3c" stroke-width="0.6"/>
<line x1="337.20" y1="776.84" x2="337.20" y2="768.47" stroke="#111" stroke-width="1.3"/>
<line x1="334.90" y1="768.47" x2="339.50" y2="768.47" stroke="#111" stroke-width="1.5"/>
<rect x="332.90" y="777.14" width="8.60" height="43.56" fill="#5a2368" stroke="#48145a" stroke-width="0.6"/>
<line x1="349.45" y1="767.15" x2="349.45" y2="757.47" stroke="#111" stroke-width="1.3"/>
<line x1="347.15" y1="757.47" x2="351.75" y2="757.47" stroke="#111" stroke-width="1.5"/>
<rect x="345.15" y="767.45" width="8.60" height="53.25" fill="#14548c" stroke="#0d4577" stroke-width="0.6"/>
<line x1="361.70" y1="760.55" x2="361.70" y2="754.69" stroke="#111" stroke-width="1.3"/>
<line x1="359.40" y1="754.69" x2="364.00" y2="754.69" stroke="#111" stroke-width="1.5"/>
<rect x="357.40" y="760.85" width="8.60" height="59.85" fill="#c8102e" stroke="#b00c28" stroke-width="0.6"/>
<line x1="373.95" y1="751.75" x2="373.95" y2="745.74" stroke="#111" stroke-width="1.3"/>
<line x1="371.65" y1="745.74" x2="376.25" y2="745.74" stroke="#111" stroke-width="1.5"/>
<rect x="369.65" y="752.05" width="8.60" height="68.65" fill="#3cb44b" stroke="#2a9f3c" stroke-width="0.6"/>
<line x1="393.80" y1="753.80" x2="393.80" y2="740.46" stroke="#111" stroke-width="1.3"/>
<line x1="391.50" y1="740.46" x2="396.10" y2="740.46" stroke="#111" stroke-width="1.5"/>
<rect x="389.50" y="754.10" width="8.60" height="66.60" fill="#5a2368" stroke="#48145a" stroke-width="0.6"/>
<line x1="406.05" y1="740.16" x2="406.05" y2="725.79" stroke="#111" stroke-width="1.3"/>
<line x1="403.75" y1="725.79" x2="408.35" y2="725.79" stroke="#111" stroke-width="1.5"/>
<rect x="401.75" y="740.46" width="8.60" height="80.24" fill="#14548c" stroke="#0d4577" stroke-width="0.6"/>
<line x1="418.30" y1="733.85" x2="418.30" y2="725.79" stroke="#111" stroke-width="1.3"/>
<line x1="416.00" y1="725.79" x2="420.60" y2="725.79" stroke="#111" stroke-width="1.5"/>
<rect x="414.00" y="734.15" width="8.60" height="86.55" fill="#c8102e" stroke="#b00c28" stroke-width="0.6"/>
<line x1="430.55" y1="724.02" x2="430.55" y2="715.66" stroke="#111" stroke-width="1.3"/>
<line x1="428.25" y1="715.66" x2="432.85" y2="715.66" stroke="#111" stroke-width="1.5"/>
<rect x="426.25" y="724.32" width="8.60" height="96.38" fill="#3cb44b" stroke="#2a9f3c" stroke-width="0.6"/>
<line x1="298.70" y1="820.70" x2="298.70" y2="824.30" stroke="#000" stroke-width="1.1"/>
<text x="298.70" y="837.00" font-size="10" text-anchor="middle" font-weight="normal" fill="#231f20" stroke="#231f20" stroke-width="0.08">1:1</text>
<line x1="355.20" y1="820.70" x2="355.20" y2="824.30" stroke="#000" stroke-width="1.1"/>
<text x="355.20" y="837.00" font-size="10" text-anchor="middle" font-weight="normal" fill="#231f20" stroke="#231f20" stroke-width="0.08">2.5:1</text>
<line x1="412.00" y1="820.70" x2="412.00" y2="824.30" stroke="#000" stroke-width="1.1"/>
<text x="412.00" y="837.00" font-size="10" text-anchor="middle" font-weight="normal" fill="#231f20" stroke="#231f20" stroke-width="0.08">5:1</text>
<text x="355.35" y="854.40" font-size="11.8" text-anchor="middle" fill="#231f20" stroke="#231f20" stroke-width="0.25" textLength="32.90" lengthAdjust="spacingAndGlyphs">E:T ratio</text>
<text transform="translate(234.40,747.70) rotate(-90)" x="0" y="0" font-size="11.8" text-anchor="middle" fill="#231f20" stroke="#231f20" stroke-width="0.25" textLength="62.40" lengthAdjust="spacingAndGlyphs">% Specific lysis</text>
<line x1="305.00" y1="764.20" x2="317.10" y2="764.20" stroke="#000" stroke-width="1.1"/>
<polygon points="308.70,755.90 309.35,757.21 310.79,757.42 309.75,758.44 309.99,759.88 308.70,759.20 307.41,759.88 307.65,758.44 306.61,757.42 308.05,757.21" fill="#000"/>
<polygon points="313.40,755.90 314.05,757.21 315.49,757.42 314.45,758.44 314.69,759.88 313.40,759.20 312.11,759.88 312.35,758.44 311.31,757.42 312.75,757.21" fill="#000"/>
<line x1="361.50" y1="736.20" x2="373.90" y2="736.20" stroke="#000" stroke-width="1.1"/>
<polygon points="365.35,727.90 366.00,729.21 367.44,729.42 366.40,730.44 366.64,731.88 365.35,731.20 364.06,731.88 364.30,730.44 363.26,729.42 364.70,729.21" fill="#000"/>
<polygon points="370.05,727.90 370.70,729.21 372.14,729.42 371.10,730.44 371.34,731.88 370.05,731.20 368.76,731.88 369.00,730.44 367.96,729.42 369.40,729.21" fill="#000"/>
<line x1="418.50" y1="707.40" x2="431.20" y2="707.40" stroke="#000" stroke-width="1.1"/>
<polygon points="422.50,699.10 423.15,700.41 424.59,700.62 423.55,701.64 423.79,703.08 422.50,702.40 421.21,703.08 421.45,701.64 420.41,700.62 421.85,700.41" fill="#000"/>
<polygon points="427.20,699.10 427.85,700.41 429.29,700.62 428.25,701.64 428.49,703.08 427.20,702.40 425.91,703.08 426.15,701.64 425.11,700.62 426.55,700.41" fill="#000"/>
<rect x="442.40" y="656.00" width="7.70" height="7.40" fill="#5a2368" stroke="#48145a" stroke-width="0.6"/>
<text x="455.60" y="662.40" font-size="9.8" text-anchor="start" font-weight="normal" fill="#231f20" stroke="#231f20" stroke-width="0.08">Mock</text>
<rect x="442.40" y="668.85" width="7.70" height="7.40" fill="#14548c" stroke="#0d4577" stroke-width="0.6"/>
<text x="455.60" y="675.25" font-size="9.8" text-anchor="start" font-weight="normal" fill="#231f20" stroke="#231f20" stroke-width="0.08">KO</text>
<rect x="442.40" y="681.70" width="7.70" height="7.40" fill="#c8102e" stroke="#b00c28" stroke-width="0.6"/>
<text x="455.60" y="688.10" font-size="9.8" text-anchor="start" font-weight="normal" fill="#231f20" stroke="#231f20" stroke-width="0.08">Mock + Dara</text>
<rect x="442.40" y="694.55" width="7.70" height="7.40" fill="#3cb44b" stroke="#2a9f3c" stroke-width="0.6"/>
<text x="455.60" y="700.95" font-size="9.8" text-anchor="start" font-weight="normal" fill="#231f20" stroke="#231f20" stroke-width="0.08">KO + Dara</text>
<rect x="0.75" y="0.75" width="518.5" height="863.5" fill="none" stroke="#000" stroke-width="1.5"/>
</svg>
</body></html>
